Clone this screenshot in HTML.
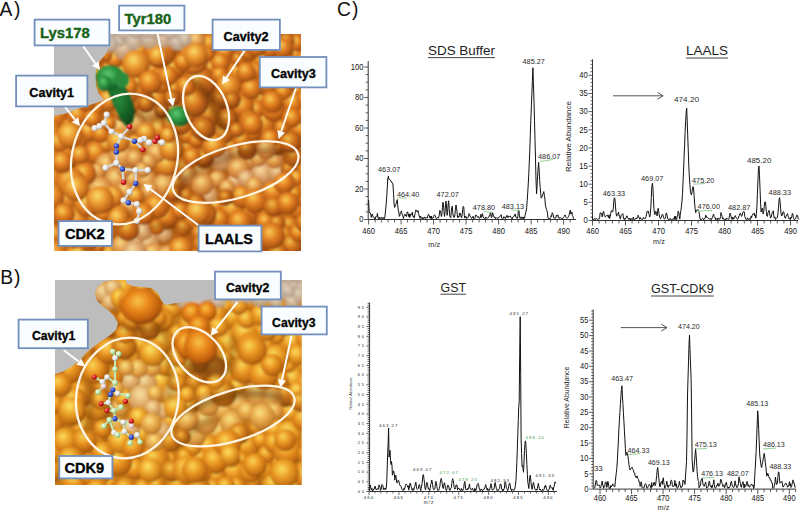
<!DOCTYPE html><html><head><meta charset="utf-8"><style>html,body{margin:0;padding:0;background:#fff;}svg{display:block;font-family:"Liberation Sans",sans-serif;}</style></head><body>
<svg width="800" height="518" viewBox="0 0 800 518">
<defs><radialGradient id="ga0" cx="0.42" cy="0.38" r="0.66" fx="0.40" fy="0.34"><stop offset="0" stop-color="#dcad4d"/><stop offset="0.14" stop-color="#b86820"/><stop offset="0.45" stop-color="#904c12"/><stop offset="0.8" stop-color="#6a340a"/><stop offset="1" stop-color="#4e2606" stop-opacity="0.95"/></radialGradient>
<radialGradient id="ga1" cx="0.42" cy="0.38" r="0.66" fx="0.40" fy="0.34"><stop offset="0" stop-color="#e6b850"/><stop offset="0.14" stop-color="#cc7f27"/><stop offset="0.45" stop-color="#aa5a16"/><stop offset="0.8" stop-color="#7f3d0e"/><stop offset="1" stop-color="#5a2b08" stop-opacity="0.95"/></radialGradient>
<radialGradient id="ga2" cx="0.42" cy="0.38" r="0.66" fx="0.40" fy="0.34"><stop offset="0" stop-color="#f0c454"/><stop offset="0.14" stop-color="#e0962e"/><stop offset="0.45" stop-color="#c4681a"/><stop offset="0.8" stop-color="#944612"/><stop offset="1" stop-color="#66300a" stop-opacity="0.95"/></radialGradient>
<radialGradient id="ga3" cx="0.42" cy="0.38" r="0.66" fx="0.40" fy="0.34"><stop offset="0" stop-color="#f4cc59"/><stop offset="0.14" stop-color="#e9a538"/><stop offset="0.45" stop-color="#d3741e"/><stop offset="0.8" stop-color="#a45013"/><stop offset="1" stop-color="#703309" stop-opacity="0.95"/></radialGradient>
<radialGradient id="ga4" cx="0.42" cy="0.38" r="0.66" fx="0.40" fy="0.34"><stop offset="0" stop-color="#f8d35e"/><stop offset="0.14" stop-color="#f2b443"/><stop offset="0.45" stop-color="#e27f22"/><stop offset="0.8" stop-color="#b45a14"/><stop offset="1" stop-color="#7a3608" stop-opacity="0.95"/></radialGradient>
<radialGradient id="ga5" cx="0.42" cy="0.38" r="0.66" fx="0.40" fy="0.34"><stop offset="0" stop-color="#fad864"/><stop offset="0.14" stop-color="#f4be4e"/><stop offset="0.45" stop-color="#e68a28"/><stop offset="0.8" stop-color="#bb6117"/><stop offset="1" stop-color="#803b0a" stop-opacity="0.95"/></radialGradient>
<radialGradient id="ga6" cx="0.42" cy="0.38" r="0.66" fx="0.40" fy="0.34"><stop offset="0" stop-color="#fadd69"/><stop offset="0.14" stop-color="#f6c858"/><stop offset="0.45" stop-color="#ea962e"/><stop offset="0.8" stop-color="#c2681a"/><stop offset="1" stop-color="#86400c" stop-opacity="0.95"/></radialGradient>
<radialGradient id="ga7" cx="0.42" cy="0.38" r="0.66" fx="0.40" fy="0.34"><stop offset="0" stop-color="#f9de79"/><stop offset="0.14" stop-color="#f3ca78"/><stop offset="0.45" stop-color="#e49f4e"/><stop offset="0.8" stop-color="#c47834"/><stop offset="1" stop-color="#945420" stop-opacity="0.95"/></radialGradient>
<radialGradient id="ga8" cx="0.42" cy="0.38" r="0.66" fx="0.40" fy="0.34"><stop offset="0" stop-color="#f8df89"/><stop offset="0.14" stop-color="#f0cc98"/><stop offset="0.45" stop-color="#dea86e"/><stop offset="0.8" stop-color="#c6884e"/><stop offset="1" stop-color="#a26834" stop-opacity="0.95"/></radialGradient>
<radialGradient id="ga9" cx="0.42" cy="0.38" r="0.66" fx="0.40" fy="0.34"><stop offset="0" stop-color="#f2de92"/><stop offset="0.14" stop-color="#e4cbaa"/><stop offset="0.45" stop-color="#d4b08a"/><stop offset="0.8" stop-color="#bf946d"/><stop offset="1" stop-color="#a17954" stop-opacity="0.95"/></radialGradient>
<radialGradient id="ga10" cx="0.42" cy="0.38" r="0.66" fx="0.40" fy="0.34"><stop offset="0" stop-color="#ecde9b"/><stop offset="0.14" stop-color="#d8cabc"/><stop offset="0.45" stop-color="#cbb8a6"/><stop offset="0.8" stop-color="#b8a18c"/><stop offset="1" stop-color="#a08a74" stop-opacity="0.95"/></radialGradient><radialGradient id="gb0" cx="0.42" cy="0.38" r="0.66" fx="0.40" fy="0.34"><stop offset="0" stop-color="#e0b149"/><stop offset="0.14" stop-color="#c07018"/><stop offset="0.45" stop-color="#9a500e"/><stop offset="0.8" stop-color="#723808"/><stop offset="1" stop-color="#542604" stop-opacity="0.95"/></radialGradient>
<radialGradient id="gb1" cx="0.42" cy="0.38" r="0.66" fx="0.40" fy="0.34"><stop offset="0" stop-color="#eabd4f"/><stop offset="0.14" stop-color="#d48824"/><stop offset="0.45" stop-color="#b16314"/><stop offset="0.8" stop-color="#86450c"/><stop offset="1" stop-color="#602f06" stop-opacity="0.95"/></radialGradient>
<radialGradient id="gb2" cx="0.42" cy="0.38" r="0.66" fx="0.40" fy="0.34"><stop offset="0" stop-color="#f4c955"/><stop offset="0.14" stop-color="#e8a030"/><stop offset="0.45" stop-color="#c8761a"/><stop offset="0.8" stop-color="#9a5210"/><stop offset="1" stop-color="#6c3808" stop-opacity="0.95"/></radialGradient>
<radialGradient id="gb3" cx="0.42" cy="0.38" r="0.66" fx="0.40" fy="0.34"><stop offset="0" stop-color="#f7d25a"/><stop offset="0.14" stop-color="#efb13a"/><stop offset="0.45" stop-color="#d8851e"/><stop offset="0.8" stop-color="#ae5f11"/><stop offset="1" stop-color="#7b4109" stop-opacity="0.95"/></radialGradient>
<radialGradient id="gb4" cx="0.42" cy="0.38" r="0.66" fx="0.40" fy="0.34"><stop offset="0" stop-color="#fada5f"/><stop offset="0.14" stop-color="#f6c244"/><stop offset="0.45" stop-color="#e99422"/><stop offset="0.8" stop-color="#c26c12"/><stop offset="1" stop-color="#8a4a0a" stop-opacity="0.95"/></radialGradient>
<radialGradient id="gb5" cx="0.42" cy="0.38" r="0.66" fx="0.40" fy="0.34"><stop offset="0" stop-color="#fbde63"/><stop offset="0.14" stop-color="#f7ca4c"/><stop offset="0.45" stop-color="#ec9d27"/><stop offset="0.8" stop-color="#c77414"/><stop offset="1" stop-color="#8f4e0b" stop-opacity="0.95"/></radialGradient>
<radialGradient id="gb6" cx="0.42" cy="0.38" r="0.66" fx="0.40" fy="0.34"><stop offset="0" stop-color="#fce267"/><stop offset="0.14" stop-color="#f8d254"/><stop offset="0.45" stop-color="#eea62c"/><stop offset="0.8" stop-color="#cc7c16"/><stop offset="1" stop-color="#94520c" stop-opacity="0.95"/></radialGradient>
<radialGradient id="gb7" cx="0.42" cy="0.38" r="0.66" fx="0.40" fy="0.34"><stop offset="0" stop-color="#fae278"/><stop offset="0.14" stop-color="#f5d377"/><stop offset="0.45" stop-color="#e9ad4e"/><stop offset="0.8" stop-color="#cc8733"/><stop offset="1" stop-color="#9e6120" stop-opacity="0.95"/></radialGradient>
<radialGradient id="gb8" cx="0.42" cy="0.38" r="0.66" fx="0.40" fy="0.34"><stop offset="0" stop-color="#f8e38a"/><stop offset="0.14" stop-color="#f2d49a"/><stop offset="0.45" stop-color="#e4b470"/><stop offset="0.8" stop-color="#cc9250"/><stop offset="1" stop-color="#a87034" stop-opacity="0.95"/></radialGradient>
<radialGradient id="gb9" cx="0.42" cy="0.38" r="0.66" fx="0.40" fy="0.34"><stop offset="0" stop-color="#f2e194"/><stop offset="0.14" stop-color="#e6d0ad"/><stop offset="0.45" stop-color="#d8b78c"/><stop offset="0.8" stop-color="#c39b6f"/><stop offset="1" stop-color="#a57e55" stop-opacity="0.95"/></radialGradient>
<radialGradient id="gb10" cx="0.42" cy="0.38" r="0.66" fx="0.40" fy="0.34"><stop offset="0" stop-color="#ece09d"/><stop offset="0.14" stop-color="#dacdc0"/><stop offset="0.45" stop-color="#ccbaa8"/><stop offset="0.8" stop-color="#baa48e"/><stop offset="1" stop-color="#a28c76" stop-opacity="0.95"/></radialGradient>
<radialGradient id="prom" cx="0.45" cy="0.4" r="0.62" fx="0.42" fy="0.36">
  <stop offset="0" stop-color="#f8c448"/>
  <stop offset="0.45" stop-color="#e8841a"/>
  <stop offset="0.85" stop-color="#b85a0c"/>
  <stop offset="1" stop-color="#6a3006"/>
</radialGradient>
<radialGradient id="sphG" cx="0.42" cy="0.38" r="0.66">
  <stop offset="0" stop-color="#62c872"/>
  <stop offset="0.45" stop-color="#2f9a44"/>
  <stop offset="0.85" stop-color="#1d6e30"/>
  <stop offset="1" stop-color="#134f20"/>
</radialGradient>
<radialGradient id="sphGd" cx="0.42" cy="0.38" r="0.66">
  <stop offset="0" stop-color="#2a8a3c"/>
  <stop offset="0.5" stop-color="#1a6a2a"/>
  <stop offset="1" stop-color="#0f461a"/>
</radialGradient>
<radialGradient id="atomW" cx="0.35" cy="0.35" r="0.7">
  <stop offset="0" stop-color="#ffffff"/><stop offset="0.6" stop-color="#e4e4e4"/><stop offset="1" stop-color="#a0a0a0"/>
</radialGradient>
<radialGradient id="atomB" cx="0.35" cy="0.35" r="0.7">
  <stop offset="0" stop-color="#8aa0ff"/><stop offset="0.6" stop-color="#3048c8"/><stop offset="1" stop-color="#1a2470"/>
</radialGradient>
<radialGradient id="atomR" cx="0.35" cy="0.35" r="0.7">
  <stop offset="0" stop-color="#ff8080"/><stop offset="0.6" stop-color="#d01818"/><stop offset="1" stop-color="#801010"/>
</radialGradient>
<radialGradient id="atomP" cx="0.35" cy="0.35" r="0.7">
  <stop offset="0" stop-color="#fff4f4"/><stop offset="0.6" stop-color="#e8d0d0"/><stop offset="1" stop-color="#a08888"/>
</radialGradient>
<radialGradient id="atomGr" cx="0.35" cy="0.35" r="0.7">
  <stop offset="0" stop-color="#f4fff0"/><stop offset="0.6" stop-color="#bce4a8"/><stop offset="1" stop-color="#78a868"/>
</radialGradient>
<clipPath id="clipA"><rect x="54" y="34" width="247" height="217"/></clipPath>
<clipPath id="clipB"><rect x="55" y="280" width="246.5" height="205"/></clipPath>
<filter id="soft" x="-5%" y="-5%" width="110%" height="110%"><feGaussianBlur stdDeviation="0.9"/></filter>
<filter id="blur3" x="-30%" y="-30%" width="160%" height="160%"><feGaussianBlur stdDeviation="3"/></filter>
<filter id="blur5" x="-30%" y="-30%" width="160%" height="160%"><feGaussianBlur stdDeviation="5"/></filter>
</defs>
<rect width="800" height="518" fill="#fff"/>
<g clip-path="url(#clipA)">
<rect x="54" y="34" width="247" height="217" fill="#b8641a"/>
<g filter="url(#soft)">
<rect x="100" y="30" width="100" height="20" fill="#cbb8a4"/>
<circle cx="215.7" cy="205.6" r="7.9" fill="url(#ga5)"/>
<circle cx="47.3" cy="46.0" r="9.2" fill="url(#ga4)"/>
<circle cx="112.0" cy="84.6" r="8.1" fill="url(#ga4)"/>
<circle cx="96.0" cy="152.6" r="11.4" fill="url(#ga4)"/>
<circle cx="186.0" cy="195.4" r="7.6" fill="url(#ga3)"/>
<circle cx="290.0" cy="224.9" r="9.9" fill="url(#ga3)"/>
<circle cx="54.4" cy="115.4" r="14.7" fill="url(#ga4)"/>
<circle cx="79.1" cy="255.0" r="14.0" fill="url(#ga5)"/>
<circle cx="54.8" cy="234.5" r="9.8" fill="url(#ga4)"/>
<circle cx="209.4" cy="234.1" r="8.7" fill="url(#ga4)"/>
<circle cx="132.1" cy="179.0" r="9.7" fill="url(#ga7)"/>
<circle cx="110.6" cy="254.9" r="12.3" fill="url(#ga4)"/>
<circle cx="210.1" cy="43.6" r="10.3" fill="url(#ga4)"/>
<circle cx="148.8" cy="143.8" r="8.6" fill="url(#ga7)"/>
<circle cx="49.1" cy="78.3" r="9.8" fill="url(#ga3)"/>
<circle cx="107.0" cy="164.3" r="11.6" fill="url(#ga7)"/>
<circle cx="110.0" cy="69.7" r="9.9" fill="url(#ga4)"/>
<circle cx="262.7" cy="173.6" r="11.9" fill="url(#ga8)"/>
<circle cx="122.4" cy="73.7" r="11.7" fill="url(#ga5)"/>
<circle cx="294.8" cy="54.4" r="8.1" fill="url(#ga4)"/>
<circle cx="98.9" cy="73.0" r="8.4" fill="url(#ga4)"/>
<circle cx="156.1" cy="97.8" r="12.4" fill="url(#ga4)"/>
<circle cx="263.6" cy="123.4" r="11.4" fill="url(#ga5)"/>
<circle cx="134.8" cy="143.8" r="9.4" fill="url(#ga6)"/>
<circle cx="263.2" cy="210.6" r="8.4" fill="url(#ga4)"/>
<circle cx="285.4" cy="234.4" r="8.2" fill="url(#ga3)"/>
<circle cx="47.9" cy="211.6" r="9.3" fill="url(#ga5)"/>
<circle cx="109.5" cy="222.6" r="7.6" fill="url(#ga4)"/>
<circle cx="236.1" cy="238.4" r="8.9" fill="url(#ga4)"/>
<circle cx="222.6" cy="41.4" r="10.1" fill="url(#ga3)"/>
<circle cx="277.8" cy="172.2" r="10.4" fill="url(#ga8)"/>
<circle cx="263.7" cy="59.8" r="12.7" fill="url(#ga4)"/>
<circle cx="309.1" cy="141.2" r="7.8" fill="url(#ga4)"/>
<circle cx="231.3" cy="225.1" r="11.2" fill="url(#ga4)"/>
<circle cx="63.8" cy="159.6" r="13.1" fill="url(#ga5)"/>
<circle cx="177.1" cy="183.0" r="9.1" fill="url(#ga3)"/>
<circle cx="181.6" cy="167.4" r="10.5" fill="url(#ga4)"/>
<circle cx="238.7" cy="72.0" r="11.4" fill="url(#ga4)"/>
<circle cx="265.5" cy="221.4" r="9.2" fill="url(#ga4)"/>
<circle cx="243.8" cy="217.8" r="12.8" fill="url(#ga4)"/>
<circle cx="251.3" cy="147.6" r="12.1" fill="url(#ga2)"/>
<circle cx="163.9" cy="233.9" r="8.3" fill="url(#ga8)"/>
<circle cx="147.0" cy="180.0" r="9.6" fill="url(#ga7)"/>
<circle cx="208.7" cy="195.0" r="9.0" fill="url(#ga8)"/>
<circle cx="116.2" cy="179.1" r="11.3" fill="url(#ga7)"/>
<circle cx="210.9" cy="67.9" r="8.7" fill="url(#ga4)"/>
<circle cx="308.3" cy="187.9" r="12.8" fill="url(#ga3)"/>
<circle cx="309.4" cy="45.2" r="9.5" fill="url(#ga4)"/>
<circle cx="165.8" cy="217.6" r="12.1" fill="url(#ga4)"/>
<circle cx="129.5" cy="206.5" r="9.3" fill="url(#ga7)"/>
<circle cx="186.8" cy="147.0" r="8.2" fill="url(#ga4)"/>
<circle cx="247.4" cy="238.7" r="7.8" fill="url(#ga4)"/>
<circle cx="164.1" cy="185.0" r="11.2" fill="url(#ga7)"/>
<circle cx="49.2" cy="178.0" r="14.1" fill="url(#ga5)"/>
<circle cx="167.1" cy="164.1" r="11.9" fill="url(#ga6)"/>
<circle cx="277.2" cy="222.8" r="8.2" fill="url(#ga3)"/>
<circle cx="88.6" cy="217.9" r="9.4" fill="url(#ga5)"/>
<circle cx="269.5" cy="48.2" r="9.5" fill="url(#ga4)"/>
<circle cx="92.3" cy="85.7" r="8.9" fill="url(#ga4)"/>
<circle cx="235.0" cy="181.7" r="8.1" fill="url(#ga8)"/>
<circle cx="95.7" cy="257.5" r="10.5" fill="url(#ga3)"/>
<circle cx="86.5" cy="47.5" r="10.1" fill="url(#ga4)"/>
<circle cx="300.6" cy="128.6" r="10.1" fill="url(#ga4)"/>
<circle cx="296.4" cy="90.2" r="9.4" fill="url(#ga4)"/>
<circle cx="141.5" cy="103.2" r="14.0" fill="url(#ga2)"/>
<circle cx="48.1" cy="133.5" r="13.5" fill="url(#ga5)"/>
<circle cx="232.3" cy="208.8" r="12.0" fill="url(#ga5)"/>
<circle cx="122.5" cy="246.0" r="11.1" fill="url(#ga7)"/>
<circle cx="293.4" cy="102.8" r="11.2" fill="url(#ga4)"/>
<circle cx="219.3" cy="218.8" r="10.1" fill="url(#ga4)"/>
<circle cx="148.3" cy="242.5" r="10.5" fill="url(#ga8)"/>
<circle cx="274.7" cy="159.5" r="9.3" fill="url(#ga7)"/>
<circle cx="252.7" cy="131.5" r="8.8" fill="url(#ga4)"/>
<circle cx="297.0" cy="208.6" r="10.1" fill="url(#ga4)"/>
<circle cx="103.2" cy="213.6" r="8.0" fill="url(#ga4)"/>
<circle cx="308.3" cy="171.3" r="13.0" fill="url(#ga3)"/>
<circle cx="196.3" cy="202.8" r="9.8" fill="url(#ga2)"/>
<circle cx="124.5" cy="91.3" r="15.3" fill="url(#ga5)"/>
<circle cx="180.3" cy="210.5" r="8.7" fill="url(#ga4)"/>
<circle cx="141.0" cy="84.9" r="13.2" fill="url(#ga5)"/>
<circle cx="173.0" cy="68.1" r="11.7" fill="url(#ga4)"/>
<circle cx="97.5" cy="171.5" r="8.6" fill="url(#ga7)"/>
<circle cx="156.7" cy="152.8" r="10.2" fill="url(#ga7)"/>
<circle cx="61.4" cy="212.7" r="11.8" fill="url(#ga5)"/>
<circle cx="229.9" cy="145.5" r="8.3" fill="url(#ga4)"/>
<circle cx="239.1" cy="59.0" r="8.3" fill="url(#ga3)"/>
<circle cx="89.0" cy="130.9" r="10.0" fill="url(#ga5)"/>
<circle cx="71.0" cy="127.6" r="10.1" fill="url(#ga4)"/>
<circle cx="248.2" cy="161.3" r="8.4" fill="url(#ga7)"/>
<circle cx="193.7" cy="220.2" r="8.2" fill="url(#ga5)"/>
<circle cx="305.7" cy="241.0" r="7.8" fill="url(#ga4)"/>
<circle cx="153.3" cy="254.3" r="11.3" fill="url(#ga7)"/>
<circle cx="173.6" cy="89.0" r="11.2" fill="url(#ga4)"/>
<circle cx="121.1" cy="126.6" r="11.7" fill="url(#ga7)"/>
<circle cx="135.4" cy="240.2" r="7.9" fill="url(#ga8)"/>
<circle cx="241.6" cy="196.2" r="11.7" fill="url(#ga4)"/>
<circle cx="296.8" cy="42.7" r="8.5" fill="url(#ga4)"/>
<circle cx="120.5" cy="214.1" r="9.4" fill="url(#ga4)"/>
<circle cx="239.5" cy="91.8" r="7.7" fill="url(#ga4)"/>
<circle cx="217.3" cy="178.9" r="8.5" fill="url(#ga7)"/>
<circle cx="168.7" cy="257.5" r="12.7" fill="url(#ga7)"/>
<circle cx="291.9" cy="244.7" r="11.3" fill="url(#ga3)"/>
<circle cx="204.5" cy="214.2" r="12.2" fill="url(#ga3)"/>
<circle cx="230.6" cy="106.3" r="7.8" fill="url(#ga2)"/>
<circle cx="124.5" cy="169.8" r="7.5" fill="url(#ga7)"/>
<circle cx="52.6" cy="66.5" r="11.4" fill="url(#ga4)"/>
<circle cx="248.6" cy="47.9" r="12.7" fill="url(#ga5)"/>
<circle cx="106.6" cy="143.7" r="7.9" fill="url(#ga6)"/>
<circle cx="212.7" cy="250.6" r="8.9" fill="url(#ga4)"/>
<circle cx="114.6" cy="59.2" r="9.2" fill="url(#ga4)"/>
<circle cx="143.3" cy="231.5" r="9.1" fill="url(#ga8)"/>
<circle cx="53.9" cy="254.3" r="13.5" fill="url(#ga5)"/>
<circle cx="100.5" cy="189.5" r="12.6" fill="url(#ga7)"/>
<circle cx="48.9" cy="150.4" r="12.6" fill="url(#ga5)"/>
<circle cx="227.3" cy="187.4" r="8.0" fill="url(#ga7)"/>
<circle cx="101.0" cy="133.8" r="9.2" fill="url(#ga4)"/>
<circle cx="187.3" cy="115.3" r="7.6" fill="url(#ga4)"/>
<circle cx="239.2" cy="154.2" r="10.1" fill="url(#ga7)"/>
<circle cx="65.9" cy="198.9" r="12.1" fill="url(#ga5)"/>
<circle cx="148.5" cy="117.0" r="12.6" fill="url(#ga7)"/>
<circle cx="122.1" cy="155.7" r="12.9" fill="url(#ga7)"/>
<circle cx="148.5" cy="161.7" r="8.3" fill="url(#ga7)"/>
<circle cx="158.8" cy="127.5" r="9.5" fill="url(#ga6)"/>
<circle cx="51.0" cy="196.6" r="13.5" fill="url(#ga5)"/>
<circle cx="288.6" cy="169.3" r="8.2" fill="url(#ga2)"/>
<circle cx="293.3" cy="156.3" r="10.2" fill="url(#ga3)"/>
<circle cx="201.5" cy="171.6" r="7.9" fill="url(#ga7)"/>
<circle cx="83.1" cy="74.6" r="11.5" fill="url(#ga3)"/>
<circle cx="53.4" cy="95.3" r="12.4" fill="url(#ga4)"/>
<circle cx="294.4" cy="193.2" r="7.8" fill="url(#ga4)"/>
<circle cx="104.2" cy="54.5" r="8.3" fill="url(#ga4)"/>
<circle cx="171.4" cy="148.7" r="12.3" fill="url(#ga6)"/>
<circle cx="199.4" cy="232.8" r="8.3" fill="url(#ga4)"/>
<circle cx="186.7" cy="135.3" r="8.6" fill="url(#ga4)"/>
<circle cx="284.7" cy="50.9" r="9.0" fill="url(#ga3)"/>
<circle cx="124.9" cy="190.9" r="9.3" fill="url(#ga7)"/>
<circle cx="262.4" cy="99.8" r="10.3" fill="url(#ga3)"/>
<circle cx="128.2" cy="229.7" r="11.3" fill="url(#ga3)"/>
<circle cx="157.0" cy="227.3" r="7.8" fill="url(#ga4)"/>
<circle cx="224.6" cy="52.4" r="8.8" fill="url(#ga4)"/>
<circle cx="223.1" cy="132.9" r="11.6" fill="url(#ga3)"/>
<circle cx="134.6" cy="158.2" r="8.6" fill="url(#ga7)"/>
<circle cx="258.0" cy="158.2" r="8.5" fill="url(#ga7)"/>
<circle cx="220.8" cy="159.3" r="12.0" fill="url(#ga8)"/>
<circle cx="225.6" cy="197.4" r="8.4" fill="url(#ga2)"/>
<circle cx="94.9" cy="59.2" r="9.3" fill="url(#ga4)"/>
<circle cx="238.7" cy="168.0" r="11.2" fill="url(#ga7)"/>
<circle cx="170.4" cy="123.0" r="9.1" fill="url(#ga4)"/>
<circle cx="246.2" cy="178.5" r="8.8" fill="url(#ga8)"/>
<circle cx="306.9" cy="98.9" r="10.2" fill="url(#ga4)"/>
<circle cx="118.4" cy="141.0" r="11.8" fill="url(#ga6)"/>
<circle cx="277.4" cy="147.1" r="8.4" fill="url(#ga2)"/>
<circle cx="138.5" cy="52.5" r="12.7" fill="url(#ga5)"/>
<circle cx="199.4" cy="82.5" r="16.8" fill="url(#ga3)"/>
<circle cx="95.4" cy="108.3" r="8.2" fill="url(#ga4)"/>
<circle cx="69.4" cy="98.9" r="9.7" fill="url(#ga3)"/>
<circle cx="142.3" cy="169.9" r="7.9" fill="url(#ga7)"/>
<circle cx="76.8" cy="55.7" r="9.6" fill="url(#ga4)"/>
<circle cx="197.6" cy="256.8" r="8.5" fill="url(#ga4)"/>
<circle cx="309.0" cy="156.6" r="8.3" fill="url(#ga4)"/>
<circle cx="79.8" cy="89.9" r="13.5" fill="url(#ga4)"/>
<circle cx="188.1" cy="176.6" r="8.8" fill="url(#ga7)"/>
<circle cx="123.1" cy="112.2" r="9.9" fill="url(#ga4)"/>
<circle cx="221.5" cy="232.4" r="9.7" fill="url(#ga3)"/>
<circle cx="196.5" cy="139.9" r="7.8" fill="url(#ga4)"/>
<circle cx="256.5" cy="109.4" r="8.6" fill="url(#ga4)"/>
<circle cx="149.4" cy="190.8" r="8.9" fill="url(#ga7)"/>
<circle cx="254.4" cy="185.6" r="8.9" fill="url(#ga7)"/>
<circle cx="284.8" cy="63.7" r="10.6" fill="url(#ga4)"/>
<circle cx="77.8" cy="114.7" r="11.2" fill="url(#ga4)"/>
<circle cx="202.5" cy="243.8" r="9.3" fill="url(#ga4)"/>
<circle cx="304.1" cy="60.3" r="9.0" fill="url(#ga4)"/>
<circle cx="306.0" cy="115.4" r="8.5" fill="url(#ga4)"/>
<circle cx="134.7" cy="253.7" r="12.8" fill="url(#ga8)"/>
<circle cx="124.4" cy="48.8" r="11.3" fill="url(#ga9)"/>
<circle cx="203.7" cy="157.8" r="10.7" fill="url(#ga2)"/>
<circle cx="97.1" cy="246.0" r="7.7" fill="url(#ga4)"/>
<circle cx="84.7" cy="173.8" r="11.7" fill="url(#ga4)"/>
<circle cx="288.6" cy="117.6" r="10.2" fill="url(#ga5)"/>
<circle cx="271.3" cy="240.4" r="11.7" fill="url(#ga3)"/>
<circle cx="185.6" cy="40.8" r="8.5" fill="url(#ga8)"/>
<circle cx="286.8" cy="40.9" r="8.0" fill="url(#ga3)"/>
<circle cx="304.7" cy="257.8" r="8.1" fill="url(#ga3)"/>
<circle cx="239.8" cy="249.9" r="8.9" fill="url(#ga5)"/>
<circle cx="86.5" cy="102.0" r="10.0" fill="url(#ga4)"/>
<circle cx="183.2" cy="228.1" r="7.8" fill="url(#ga4)"/>
<circle cx="64.6" cy="82.1" r="9.5" fill="url(#ga4)"/>
<circle cx="289.9" cy="141.8" r="11.1" fill="url(#ga3)"/>
<circle cx="273.7" cy="109.9" r="11.7" fill="url(#ga4)"/>
<circle cx="202.5" cy="184.4" r="11.0" fill="url(#ga7)"/>
<circle cx="113.4" cy="196.1" r="10.4" fill="url(#ga6)"/>
<circle cx="242.6" cy="106.4" r="11.6" fill="url(#ga4)"/>
<circle cx="255.2" cy="200.9" r="12.4" fill="url(#ga4)"/>
<circle cx="135.9" cy="195.7" r="7.9" fill="url(#ga6)"/>
<circle cx="168.3" cy="135.1" r="7.9" fill="url(#ga6)"/>
<circle cx="108.7" cy="123.3" r="7.6" fill="url(#ga4)"/>
<circle cx="106.8" cy="233.3" r="8.4" fill="url(#ga4)"/>
<circle cx="220.3" cy="62.4" r="9.6" fill="url(#ga4)"/>
<circle cx="253.1" cy="252.0" r="11.2" fill="url(#ga3)"/>
<circle cx="92.6" cy="118.7" r="9.0" fill="url(#ga4)"/>
<circle cx="288.0" cy="80.6" r="11.3" fill="url(#ga3)"/>
<circle cx="172.9" cy="110.8" r="8.6" fill="url(#ga5)"/>
<circle cx="102.6" cy="88.3" r="9.1" fill="url(#ga4)"/>
<circle cx="298.7" cy="232.8" r="9.4" fill="url(#ga4)"/>
<circle cx="303.5" cy="74.4" r="12.5" fill="url(#ga4)"/>
<circle cx="227.4" cy="253.4" r="9.5" fill="url(#ga4)"/>
<circle cx="136.7" cy="122.8" r="9.5" fill="url(#ga7)"/>
<circle cx="193.3" cy="59.9" r="15.1" fill="url(#ga5)"/>
<circle cx="152.4" cy="69.2" r="11.4" fill="url(#ga4)"/>
<circle cx="309.5" cy="86.3" r="9.6" fill="url(#ga4)"/>
<circle cx="75.6" cy="140.1" r="10.7" fill="url(#ga5)"/>
<circle cx="261.7" cy="233.0" r="7.5" fill="url(#ga4)"/>
<circle cx="71.8" cy="66.7" r="9.9" fill="url(#ga4)"/>
<circle cx="159.5" cy="51.3" r="16.8" fill="url(#ga4)"/>
<circle cx="156.6" cy="206.1" r="12.9" fill="url(#ga4)"/>
<circle cx="196.4" cy="40.1" r="9.2" fill="url(#ga7)"/>
<circle cx="305.1" cy="222.7" r="10.1" fill="url(#ga3)"/>
<circle cx="57.5" cy="52.4" r="9.0" fill="url(#ga3)"/>
<circle cx="219.7" cy="74.9" r="8.2" fill="url(#ga4)"/>
<circle cx="234.5" cy="42.4" r="8.1" fill="url(#ga5)"/>
<circle cx="93.9" cy="232.1" r="12.8" fill="url(#ga4)"/>
<circle cx="270.2" cy="138.6" r="9.4" fill="url(#ga4)"/>
<circle cx="71.2" cy="182.4" r="14.3" fill="url(#ga5)"/>
<circle cx="191.8" cy="156.7" r="9.3" fill="url(#ga4)"/>
<circle cx="101.3" cy="202.6" r="9.4" fill="url(#ga4)"/>
<circle cx="241.8" cy="140.1" r="8.4" fill="url(#ga4)"/>
<circle cx="222.0" cy="98.6" r="11.4" fill="url(#ga1)"/>
<circle cx="146.1" cy="132.2" r="9.7" fill="url(#ga6)"/>
<circle cx="80.1" cy="154.7" r="9.2" fill="url(#ga5)"/>
<circle cx="159.8" cy="81.0" r="12.6" fill="url(#ga5)"/>
<circle cx="209.1" cy="114.3" r="12.7" fill="url(#ga3)"/>
<circle cx="255.1" cy="70.6" r="8.5" fill="url(#ga4)"/>
<circle cx="214.5" cy="146.3" r="11.9" fill="url(#ga5)"/>
<circle cx="249.3" cy="119.9" r="10.1" fill="url(#ga3)"/>
<circle cx="268.6" cy="84.2" r="12.8" fill="url(#ga3)"/>
<circle cx="194.5" cy="102.6" r="14.4" fill="url(#ga3)"/>
<circle cx="266.3" cy="149.7" r="9.8" fill="url(#ga7)"/>
<circle cx="227.4" cy="119.4" r="11.1" fill="url(#ga2)"/>
<circle cx="278.0" cy="253.6" r="10.5" fill="url(#ga3)"/>
<circle cx="228.8" cy="86.3" r="12.8" fill="url(#ga5)"/>
<circle cx="75.3" cy="219.5" r="13.1" fill="url(#ga5)"/>
<circle cx="206.8" cy="54.1" r="7.7" fill="url(#ga4)"/>
<circle cx="203.3" cy="128.5" r="12.6" fill="url(#ga2)"/>
<circle cx="181.4" cy="125.7" r="9.3" fill="url(#ga3)"/>
<circle cx="180.6" cy="248.8" r="11.6" fill="url(#ga5)"/>
<circle cx="274.4" cy="70.2" r="7.6" fill="url(#ga4)"/>
<circle cx="296.5" cy="177.7" r="7.7" fill="url(#ga5)"/>
<circle cx="173.1" cy="193.1" r="8.2" fill="url(#ga3)"/>
<circle cx="273.3" cy="192.0" r="11.7" fill="url(#ga4)"/>
<circle cx="162.1" cy="110.8" r="7.9" fill="url(#ga1)"/>
<circle cx="282.1" cy="127.4" r="7.8" fill="url(#ga4)"/>
<circle cx="308.1" cy="201.3" r="9.9" fill="url(#ga3)"/>
<circle cx="283.3" cy="91.6" r="8.5" fill="url(#ga4)"/>
<circle cx="284.5" cy="182.9" r="10.7" fill="url(#ga4)"/>
<circle cx="251.3" cy="88.8" r="10.4" fill="url(#ga4)"/>
<circle cx="236.7" cy="130.1" r="7.6" fill="url(#ga3)"/>
<circle cx="74.3" cy="238.6" r="9.8" fill="url(#ga4)"/>
<circle cx="109.0" cy="99.6" r="11.1" fill="url(#ga5)"/>
<circle cx="273.7" cy="206.8" r="10.3" fill="url(#ga3)"/>
<circle cx="59.1" cy="142.0" r="10.0" fill="url(#ga5)"/>
<circle cx="87.5" cy="203.9" r="13.1" fill="url(#ga5)"/>
<circle cx="143.2" cy="213.9" r="10.9" fill="url(#ga4)"/>
<circle cx="119.6" cy="40.3" r="6.8" fill="url(#ga10)" opacity="0.85"/>
<circle cx="163.6" cy="40.2" r="7.9" fill="url(#ga10)" opacity="0.85"/>
<circle cx="149.3" cy="40.4" r="8.6" fill="url(#ga10)" opacity="0.85"/>
<circle cx="176.6" cy="42.7" r="7.9" fill="url(#ga10)" opacity="0.85"/>
<circle cx="125.7" cy="30.6" r="10.1" fill="url(#ga10)" opacity="0.85"/>
<circle cx="134.0" cy="41.8" r="8.5" fill="url(#ga10)" opacity="0.85"/>
<circle cx="178.8" cy="31.3" r="7.0" fill="url(#ga10)" opacity="0.85"/>
<circle cx="145.7" cy="32.1" r="6.5" fill="url(#ga10)" opacity="0.85"/>
<circle cx="162.0" cy="29.8" r="6.3" fill="url(#ga10)" opacity="0.85"/>
<circle cx="109.8" cy="31.5" r="7.1" fill="url(#ga10)" opacity="0.85"/>
<circle cx="109.1" cy="44.0" r="8.8" fill="url(#ga10)" opacity="0.85"/>
<circle cx="153.7" cy="31.4" r="6.8" fill="url(#ga10)" opacity="0.85"/>
<circle cx="184.8" cy="39.0" r="7.2" fill="url(#ga10)" opacity="0.85"/>
<circle cx="136.4" cy="30.6" r="7.9" fill="url(#ga10)" opacity="0.85"/>
<circle cx="170.4" cy="33.1" r="6.1" fill="url(#ga10)" opacity="0.85"/>
<circle cx="136.0" cy="64.0" r="14.0" fill="url(#ga6)"/>
<circle cx="158.0" cy="56.0" r="10.0" fill="url(#ga6)"/>
<circle cx="150.0" cy="82.0" r="12.0" fill="url(#ga4)"/>
<circle cx="129.0" cy="86.0" r="9.0" fill="url(#ga4)"/>
<circle cx="168.0" cy="76.0" r="10.0" fill="url(#ga4)"/>
<circle cx="183.0" cy="62.0" r="9.0" fill="url(#ga4)"/>
<circle cx="196.0" cy="55.0" r="12.0" fill="url(#ga6)"/>
<circle cx="186.0" cy="86.0" r="10.0" fill="url(#ga4)"/>
<circle cx="172.0" cy="98.0" r="9.0" fill="url(#ga2)"/>
<circle cx="146.0" cy="104.0" r="9.0" fill="url(#ga2)"/>
<circle cx="70.0" cy="135.0" r="13.0" fill="url(#ga6)"/>
<circle cx="62.0" cy="162.0" r="11.0" fill="url(#ga4)"/>
<circle cx="76.0" cy="188.0" r="13.0" fill="url(#ga6)"/>
<circle cx="64.0" cy="214.0" r="11.0" fill="url(#ga4)"/>
<circle cx="88.0" cy="240.0" r="11.0" fill="url(#ga4)"/>
<circle cx="100.0" cy="200.0" r="14.0" fill="url(#ga6)"/>
<circle cx="118.0" cy="218.0" r="10.0" fill="url(#ga6)"/>
<circle cx="198.0" cy="212.0" r="12.0" fill="url(#ga6)"/>
<circle cx="240.0" cy="222.0" r="12.0" fill="url(#ga4)"/>
<circle cx="272.0" cy="236.0" r="13.0" fill="url(#ga4)"/>
<circle cx="288.0" cy="203.0" r="11.0" fill="url(#ga4)"/>
<circle cx="256.0" cy="46.0" r="11.0" fill="url(#ga4)"/>
<circle cx="283.0" cy="48.0" r="10.0" fill="url(#ga4)"/>
<circle cx="246.0" cy="72.0" r="10.0" fill="url(#ga4)"/>
<circle cx="272.0" cy="102.0" r="11.0" fill="url(#ga4)"/>
<circle cx="292.0" cy="118.0" r="10.0" fill="url(#ga4)"/>
<circle cx="252.0" cy="124.0" r="11.0" fill="url(#ga4)"/>
<circle cx="232.0" cy="100.0" r="9.0" fill="url(#ga2)"/>
<circle cx="247.0" cy="150.0" r="10.0" fill="url(#ga2)"/>
</g>
<g filter="url(#blur3)" fill="none" stroke-linecap="round">
<path d="M196,82 Q212,98 222,128" stroke="#5a2806" stroke-width="6" opacity="0.65"/>
<path d="M184,182 Q204,160 250,152 Q278,148 290,156" stroke="#5a2806" stroke-width="5" opacity="0.6"/>
<path d="M132,112 Q150,122 172,118" stroke="#5a2806" stroke-width="6" opacity="0.5"/>
<path d="M150,228 Q170,222 190,232" stroke="#5a2806" stroke-width="5" opacity="0.45"/>
<path d="M176,130 Q184,160 178,200" stroke="#5a2806" stroke-width="5" opacity="0.45"/>
</g>
<path d="M54,34 L111,34 L110,46 L105,55 L99,62 L96,70 L96,86 L99,94 L104,100 L96,103 L86,106 L75,110 L64,114 L54,116 Z" fill="#bdbdbd"/>
<g filter="url(#soft)">
<path d="M106,86 L123,84 L131,97 L135,111 L133,122 L127,127 L120,119 L113,104 Z" fill="url(#sphGd)"/>
<ellipse cx="110" cy="77" rx="14" ry="11.5" fill="url(#sphG)"/>
<ellipse cx="104" cy="83" rx="7" ry="8" fill="url(#sphG)"/>
<ellipse cx="122" cy="80" rx="7" ry="8" fill="#2c8c3c"/>
<path d="M167,114 Q170,107 177,106 Q185,107 187,112 L189,122 Q184,127 177,126 Q170,124 168,120 Z" fill="url(#sphG)"/>
</g>
<g stroke="#d8d8d8" stroke-width="2.3" stroke-linecap="round">
<line x1="94.7" y1="128" x2="99.5" y2="126"/>
<line x1="99.5" y1="126" x2="104" y2="123"/>
<line x1="104" y1="123" x2="106.7" y2="114.7"/>
<line x1="104" y1="123" x2="111.5" y2="131.5"/>
<line x1="111.5" y1="131.5" x2="121.2" y2="136.4"/>
<line x1="121.2" y1="136.4" x2="129.6" y2="126.7"/>
<line x1="121.2" y1="136.4" x2="134.5" y2="141.2"/>
<line x1="134.5" y1="141.2" x2="144" y2="138.8"/>
<line x1="144" y1="138.8" x2="149" y2="142.4"/>
<line x1="149" y1="142.4" x2="155" y2="141.2"/>
<line x1="155" y1="141.2" x2="157.4" y2="137.5"/>
<line x1="155" y1="141.2" x2="162" y2="142.4"/>
<line x1="134.5" y1="141.2" x2="142.9" y2="149.6"/>
<line x1="121.2" y1="136.4" x2="116.4" y2="146"/>
<line x1="116.4" y1="146" x2="116.4" y2="152"/>
<line x1="116.4" y1="152" x2="116.4" y2="162.9"/>
<line x1="116.4" y1="162.9" x2="105.5" y2="167.7"/>
<line x1="116.4" y1="162.9" x2="122.4" y2="169"/>
<line x1="122.4" y1="169" x2="135.7" y2="170.2"/>
<line x1="135.7" y1="170.2" x2="147.7" y2="170.2"/>
<line x1="135.7" y1="170.2" x2="135.7" y2="183.4"/>
<line x1="122.4" y1="169" x2="123.6" y2="182.2"/>
<line x1="135.7" y1="183.4" x2="129.6" y2="191.9"/>
<line x1="129.6" y1="191.9" x2="123.6" y2="200.3"/>
<line x1="123.6" y1="200.3" x2="128.4" y2="202.7"/>
<line x1="128.4" y1="202.7" x2="136.9" y2="204"/>
<line x1="136.9" y1="204" x2="139.3" y2="211.2"/>
<line x1="139.3" y1="211.2" x2="136.9" y2="220.8"/>
<line x1="144" y1="138.8" x2="140.5" y2="140"/>
</g>
<circle cx="94.7" cy="128" r="3.1" fill="url(#atomW)"/>
<circle cx="99.5" cy="126" r="3.1" fill="url(#atomW)"/>
<circle cx="106.7" cy="114.7" r="3.1" fill="url(#atomW)"/>
<circle cx="104" cy="123" r="3.1" fill="url(#atomW)"/>
<circle cx="111.5" cy="131.5" r="3.1" fill="url(#atomW)"/>
<circle cx="121.2" cy="136.4" r="3.1" fill="url(#atomW)"/>
<circle cx="129.6" cy="126.7" r="2.7" fill="url(#atomR)"/>
<circle cx="134.5" cy="141.2" r="2.7" fill="url(#atomB)"/>
<circle cx="144" cy="138.8" r="3.1" fill="url(#atomW)"/>
<circle cx="149" cy="142.4" r="3.1" fill="url(#atomW)"/>
<circle cx="155" cy="141.2" r="2.7" fill="url(#atomR)"/>
<circle cx="157.4" cy="137.5" r="2.7" fill="url(#atomR)"/>
<circle cx="162" cy="142.4" r="3.1" fill="url(#atomW)"/>
<circle cx="142.9" cy="149.6" r="2.7" fill="url(#atomR)"/>
<circle cx="116.4" cy="146" r="2.7" fill="url(#atomB)"/>
<circle cx="116.4" cy="152" r="2.7" fill="url(#atomB)"/>
<circle cx="116.4" cy="162.9" r="3.1" fill="url(#atomW)"/>
<circle cx="105.5" cy="167.7" r="3.1" fill="url(#atomW)"/>
<circle cx="122.4" cy="169" r="2.7" fill="url(#atomB)"/>
<circle cx="135.7" cy="170.2" r="3.1" fill="url(#atomW)"/>
<circle cx="147.7" cy="170.2" r="3.1" fill="url(#atomW)"/>
<circle cx="123.6" cy="182.2" r="2.7" fill="url(#atomR)"/>
<circle cx="135.7" cy="183.4" r="2.7" fill="url(#atomB)"/>
<circle cx="129.6" cy="191.9" r="3.1" fill="url(#atomW)"/>
<circle cx="123.6" cy="200.3" r="3.1" fill="url(#atomW)"/>
<circle cx="128.4" cy="202.7" r="2.7" fill="url(#atomB)"/>
<circle cx="136.9" cy="204" r="3.1" fill="url(#atomW)"/>
<circle cx="139.3" cy="211.2" r="3.1" fill="url(#atomW)"/>
<circle cx="136.9" cy="220.8" r="3.1" fill="url(#atomW)"/>
<circle cx="140.5" cy="140" r="3.1" fill="url(#atomW)"/>
</g>
<g clip-path="url(#clipB)">
<rect x="55" y="280" width="247" height="205" fill="#c47a1c"/>
<g filter="url(#soft)">
<rect x="180" y="276" width="125" height="32" fill="#dcc6a6"/>
<circle cx="195.6" cy="383.2" r="11.8" fill="url(#gb2)"/>
<circle cx="274.6" cy="429.4" r="10.7" fill="url(#gb5)"/>
<circle cx="187.1" cy="348.8" r="9.8" fill="url(#gb5)"/>
<circle cx="133.4" cy="357.3" r="8.4" fill="url(#gb3)"/>
<circle cx="293.8" cy="378.7" r="12.2" fill="url(#gb5)"/>
<circle cx="218.7" cy="431.3" r="10.7" fill="url(#gb7)"/>
<circle cx="229.4" cy="343.6" r="13.8" fill="url(#gb5)"/>
<circle cx="67.9" cy="305.0" r="12.9" fill="url(#gb3)"/>
<circle cx="162.5" cy="380.9" r="14.7" fill="url(#gb6)"/>
<circle cx="47.0" cy="385.0" r="10.6" fill="url(#gb5)"/>
<circle cx="145.1" cy="383.4" r="12.0" fill="url(#gb8)"/>
<circle cx="124.6" cy="288.1" r="12.7" fill="url(#gb4)"/>
<circle cx="247.1" cy="446.0" r="12.8" fill="url(#gb4)"/>
<circle cx="307.5" cy="438.3" r="13.0" fill="url(#gb4)"/>
<circle cx="208.8" cy="446.3" r="11.9" fill="url(#gb4)"/>
<circle cx="258.3" cy="394.9" r="13.5" fill="url(#gb7)"/>
<circle cx="241.2" cy="460.3" r="8.4" fill="url(#gb4)"/>
<circle cx="200.7" cy="457.4" r="8.8" fill="url(#gb4)"/>
<circle cx="49.9" cy="468.6" r="14.2" fill="url(#gb4)"/>
<circle cx="169.6" cy="459.4" r="8.1" fill="url(#gb4)"/>
<circle cx="103.9" cy="286.9" r="8.6" fill="url(#gb3)"/>
<circle cx="306.0" cy="302.7" r="8.6" fill="url(#gb9)"/>
<circle cx="74.9" cy="480.4" r="13.3" fill="url(#gb5)"/>
<circle cx="127.9" cy="319.4" r="9.3" fill="url(#gb3)"/>
<circle cx="93.7" cy="440.7" r="14.0" fill="url(#gb3)"/>
<circle cx="234.5" cy="471.3" r="13.1" fill="url(#gb4)"/>
<circle cx="171.1" cy="419.8" r="10.1" fill="url(#gb6)"/>
<circle cx="81.8" cy="318.3" r="12.2" fill="url(#gb3)"/>
<circle cx="237.0" cy="486.1" r="8.9" fill="url(#gb4)"/>
<circle cx="293.8" cy="489.9" r="14.6" fill="url(#gb4)"/>
<circle cx="222.6" cy="408.8" r="12.5" fill="url(#gb7)"/>
<circle cx="140.9" cy="434.2" r="9.9" fill="url(#gb6)"/>
<circle cx="233.0" cy="316.9" r="10.8" fill="url(#gb5)"/>
<circle cx="205.7" cy="305.4" r="8.3" fill="url(#gb5)"/>
<circle cx="134.6" cy="468.2" r="11.0" fill="url(#gb4)"/>
<circle cx="215.0" cy="350.0" r="10.7" fill="url(#gb6)"/>
<circle cx="150.9" cy="284.2" r="8.3" fill="url(#gb4)"/>
<circle cx="130.2" cy="428.9" r="10.4" fill="url(#gb8)"/>
<circle cx="95.8" cy="339.1" r="15.1" fill="url(#gb4)"/>
<circle cx="63.0" cy="388.2" r="13.3" fill="url(#gb5)"/>
<circle cx="206.1" cy="339.0" r="9.6" fill="url(#gb6)"/>
<circle cx="130.2" cy="380.3" r="10.5" fill="url(#gb8)"/>
<circle cx="170.0" cy="440.8" r="11.2" fill="url(#gb3)"/>
<circle cx="295.8" cy="302.3" r="8.1" fill="url(#gb5)"/>
<circle cx="159.0" cy="295.6" r="10.5" fill="url(#gb3)"/>
<circle cx="155.2" cy="459.3" r="14.6" fill="url(#gb4)"/>
<circle cx="306.3" cy="383.1" r="9.2" fill="url(#gb4)"/>
<circle cx="177.7" cy="484.6" r="10.9" fill="url(#gb4)"/>
<circle cx="117.7" cy="461.3" r="14.7" fill="url(#gb4)"/>
<circle cx="291.5" cy="412.1" r="10.6" fill="url(#gb5)"/>
<circle cx="172.1" cy="307.8" r="10.3" fill="url(#gb5)"/>
<circle cx="172.8" cy="394.3" r="10.8" fill="url(#gb7)"/>
<circle cx="52.5" cy="452.1" r="10.7" fill="url(#gb4)"/>
<circle cx="275.3" cy="460.0" r="9.0" fill="url(#gb4)"/>
<circle cx="204.3" cy="393.3" r="8.8" fill="url(#gb5)"/>
<circle cx="256.1" cy="428.2" r="8.2" fill="url(#gb3)"/>
<circle cx="49.5" cy="423.2" r="14.4" fill="url(#gb4)"/>
<circle cx="216.4" cy="475.5" r="9.2" fill="url(#gb4)"/>
<circle cx="285.6" cy="394.8" r="12.2" fill="url(#gb2)"/>
<circle cx="142.1" cy="289.8" r="8.9" fill="url(#gb3)"/>
<circle cx="87.3" cy="462.2" r="10.0" fill="url(#gb4)"/>
<circle cx="46.1" cy="491.9" r="12.6" fill="url(#gb4)"/>
<circle cx="287.5" cy="364.8" r="8.5" fill="url(#gb5)"/>
<circle cx="103.1" cy="452.7" r="11.5" fill="url(#gb4)"/>
<circle cx="179.5" cy="336.4" r="12.1" fill="url(#gb5)"/>
<circle cx="292.5" cy="341.0" r="14.4" fill="url(#gb5)"/>
<circle cx="112.2" cy="376.4" r="11.5" fill="url(#gb4)"/>
<circle cx="109.2" cy="483.2" r="8.3" fill="url(#gb4)"/>
<circle cx="249.5" cy="300.5" r="9.7" fill="url(#gb5)"/>
<circle cx="189.6" cy="364.7" r="9.2" fill="url(#gb6)"/>
<circle cx="51.4" cy="285.0" r="15.9" fill="url(#gb4)"/>
<circle cx="115.5" cy="425.3" r="9.5" fill="url(#gb7)"/>
<circle cx="101.5" cy="309.2" r="11.0" fill="url(#gb3)"/>
<circle cx="307.8" cy="338.2" r="11.9" fill="url(#gb4)"/>
<circle cx="204.4" cy="328.5" r="8.8" fill="url(#gb5)"/>
<circle cx="256.8" cy="351.3" r="10.5" fill="url(#gb4)"/>
<circle cx="152.4" cy="473.0" r="9.2" fill="url(#gb4)"/>
<circle cx="265.9" cy="344.3" r="8.5" fill="url(#gb4)"/>
<circle cx="192.6" cy="447.2" r="8.9" fill="url(#gb5)"/>
<circle cx="119.2" cy="407.5" r="8.9" fill="url(#gb7)"/>
<circle cx="289.0" cy="433.8" r="13.1" fill="url(#gb6)"/>
<circle cx="78.8" cy="446.3" r="10.4" fill="url(#gb4)"/>
<circle cx="120.7" cy="440.6" r="12.9" fill="url(#gb6)"/>
<circle cx="145.4" cy="305.2" r="9.0" fill="url(#gb4)"/>
<circle cx="123.5" cy="303.7" r="12.1" fill="url(#gb3)"/>
<circle cx="195.4" cy="434.8" r="11.2" fill="url(#gb7)"/>
<circle cx="103.8" cy="386.6" r="11.2" fill="url(#gb3)"/>
<circle cx="84.6" cy="352.5" r="10.0" fill="url(#gb3)"/>
<circle cx="82.6" cy="425.6" r="11.7" fill="url(#gb5)"/>
<circle cx="92.4" cy="293.9" r="12.8" fill="url(#gb3)"/>
<circle cx="88.5" cy="474.6" r="10.6" fill="url(#gb4)"/>
<circle cx="164.9" cy="365.2" r="11.0" fill="url(#gb5)"/>
<circle cx="123.7" cy="397.6" r="9.4" fill="url(#gb6)"/>
<circle cx="214.9" cy="460.7" r="13.3" fill="url(#gb4)"/>
<circle cx="245.7" cy="333.5" r="14.9" fill="url(#gb5)"/>
<circle cx="74.5" cy="345.3" r="10.2" fill="url(#gb4)"/>
<circle cx="205.3" cy="421.6" r="13.0" fill="url(#gb7)"/>
<circle cx="142.5" cy="398.4" r="13.9" fill="url(#gb8)"/>
<circle cx="137.4" cy="313.6" r="8.6" fill="url(#gb4)"/>
<circle cx="113.0" cy="293.7" r="9.4" fill="url(#gb3)"/>
<circle cx="265.1" cy="469.8" r="9.5" fill="url(#gb4)"/>
<circle cx="95.5" cy="369.5" r="14.3" fill="url(#gb4)"/>
<circle cx="238.3" cy="402.5" r="11.3" fill="url(#gb7)"/>
<circle cx="163.4" cy="341.7" r="12.1" fill="url(#gb5)"/>
<circle cx="63.7" cy="351.7" r="10.0" fill="url(#gb4)"/>
<circle cx="225.9" cy="305.2" r="8.5" fill="url(#gb5)"/>
<circle cx="260.7" cy="440.1" r="8.7" fill="url(#gb4)"/>
<circle cx="161.2" cy="430.3" r="9.2" fill="url(#gb8)"/>
<circle cx="231.7" cy="422.5" r="11.7" fill="url(#gb7)"/>
<circle cx="171.9" cy="470.7" r="11.0" fill="url(#gb3)"/>
<circle cx="208.3" cy="405.2" r="10.9" fill="url(#gb7)"/>
<circle cx="106.2" cy="324.3" r="14.7" fill="url(#gb3)"/>
<circle cx="102.8" cy="428.6" r="9.3" fill="url(#gb4)"/>
<circle cx="96.7" cy="406.2" r="14.6" fill="url(#gb5)"/>
<circle cx="62.4" cy="337.5" r="10.5" fill="url(#gb4)"/>
<circle cx="212.2" cy="488.1" r="8.6" fill="url(#gb5)"/>
<circle cx="71.0" cy="411.1" r="15.1" fill="url(#gb4)"/>
<circle cx="184.7" cy="456.5" r="8.2" fill="url(#gb4)"/>
<circle cx="235.6" cy="356.5" r="8.9" fill="url(#gb5)"/>
<circle cx="246.9" cy="411.2" r="9.6" fill="url(#gb7)"/>
<circle cx="246.4" cy="319.1" r="9.5" fill="url(#gb5)"/>
<circle cx="190.6" cy="325.0" r="11.9" fill="url(#gb5)"/>
<circle cx="54.0" cy="403.7" r="10.5" fill="url(#gb4)"/>
<circle cx="277.0" cy="335.5" r="8.0" fill="url(#gb5)"/>
<circle cx="225.7" cy="486.3" r="9.7" fill="url(#gb4)"/>
<circle cx="305.8" cy="364.7" r="8.9" fill="url(#gb5)"/>
<circle cx="188.6" cy="406.1" r="9.4" fill="url(#gb5)"/>
<circle cx="297.5" cy="355.2" r="10.4" fill="url(#gb5)"/>
<circle cx="302.5" cy="315.5" r="12.0" fill="url(#gb3)"/>
<circle cx="125.2" cy="488.9" r="11.0" fill="url(#gb4)"/>
<circle cx="115.8" cy="389.0" r="8.0" fill="url(#gb7)"/>
<circle cx="225.3" cy="360.2" r="9.0" fill="url(#gb5)"/>
<circle cx="161.7" cy="319.9" r="12.1" fill="url(#gb5)"/>
<circle cx="252.8" cy="482.6" r="8.3" fill="url(#gb3)"/>
<circle cx="229.2" cy="374.2" r="10.2" fill="url(#gb5)"/>
<circle cx="271.9" cy="398.3" r="10.5" fill="url(#gb7)"/>
<circle cx="245.4" cy="350.9" r="8.5" fill="url(#gb5)"/>
<circle cx="75.0" cy="287.7" r="15.6" fill="url(#gb3)"/>
<circle cx="152.6" cy="367.6" r="8.9" fill="url(#gb7)"/>
<circle cx="118.9" cy="359.5" r="8.8" fill="url(#gb4)"/>
<circle cx="142.0" cy="344.4" r="10.2" fill="url(#gb4)"/>
<circle cx="250.3" cy="471.7" r="10.9" fill="url(#gb4)"/>
<circle cx="239.0" cy="433.5" r="10.8" fill="url(#gb3)"/>
<circle cx="164.0" cy="410.7" r="8.3" fill="url(#gb8)"/>
<circle cx="215.9" cy="368.7" r="11.8" fill="url(#gb2)"/>
<circle cx="155.2" cy="393.3" r="8.1" fill="url(#gb7)"/>
<circle cx="198.7" cy="490.7" r="13.2" fill="url(#gb3)"/>
<circle cx="178.3" cy="371.8" r="9.8" fill="url(#gb6)"/>
<circle cx="138.3" cy="368.6" r="9.5" fill="url(#gb7)"/>
<circle cx="108.7" cy="350.9" r="13.2" fill="url(#gb4)"/>
<circle cx="266.5" cy="454.3" r="9.0" fill="url(#gb4)"/>
<circle cx="153.1" cy="408.2" r="8.4" fill="url(#gb8)"/>
<circle cx="216.7" cy="313.6" r="9.7" fill="url(#gb5)"/>
<circle cx="272.8" cy="484.5" r="10.4" fill="url(#gb5)"/>
<circle cx="152.8" cy="353.3" r="13.2" fill="url(#gb6)"/>
<circle cx="145.1" cy="330.2" r="10.6" fill="url(#gb3)"/>
<circle cx="266.3" cy="329.3" r="11.9" fill="url(#gb5)"/>
<circle cx="187.1" cy="469.8" r="14.2" fill="url(#gb5)"/>
<circle cx="227.4" cy="443.4" r="13.8" fill="url(#gb4)"/>
<circle cx="284.2" cy="321.2" r="14.8" fill="url(#gb6)"/>
<circle cx="101.7" cy="474.2" r="9.7" fill="url(#gb4)"/>
<circle cx="69.0" cy="369.3" r="14.4" fill="url(#gb4)"/>
<circle cx="297.2" cy="390.5" r="8.4" fill="url(#gb6)"/>
<circle cx="143.0" cy="488.3" r="9.3" fill="url(#gb4)"/>
<circle cx="156.5" cy="485.0" r="8.1" fill="url(#gb4)"/>
<circle cx="204.2" cy="316.0" r="9.3" fill="url(#gb6)"/>
<circle cx="200.4" cy="364.4" r="8.0" fill="url(#gb1)"/>
<circle cx="52.0" cy="363.1" r="14.5" fill="url(#gb3)"/>
<circle cx="275.8" cy="357.9" r="13.5" fill="url(#gb5)"/>
<circle cx="262.0" cy="314.7" r="11.3" fill="url(#gb5)"/>
<circle cx="307.7" cy="474.8" r="14.4" fill="url(#gb4)"/>
<circle cx="238.2" cy="385.7" r="8.0" fill="url(#gb6)"/>
<circle cx="188.0" cy="420.3" r="10.9" fill="url(#gb7)"/>
<circle cx="62.1" cy="321.1" r="13.7" fill="url(#gb3)"/>
<circle cx="274.5" cy="442.8" r="10.8" fill="url(#gb4)"/>
<circle cx="243.9" cy="369.3" r="14.5" fill="url(#gb4)"/>
<circle cx="280.1" cy="380.6" r="8.8" fill="url(#gb4)"/>
<circle cx="173.2" cy="293.8" r="11.8" fill="url(#gb4)"/>
<circle cx="287.6" cy="450.8" r="14.8" fill="url(#gb4)"/>
<circle cx="65.3" cy="440.3" r="12.6" fill="url(#gb5)"/>
<circle cx="138.9" cy="417.2" r="10.2" fill="url(#gb6)"/>
<circle cx="124.3" cy="347.1" r="12.6" fill="url(#gb3)"/>
<circle cx="193.6" cy="308.3" r="13.0" fill="url(#gb5)"/>
<circle cx="279.5" cy="305.6" r="8.5" fill="url(#gb5)"/>
<circle cx="154.8" cy="441.7" r="9.5" fill="url(#gb7)"/>
<circle cx="274.3" cy="410.9" r="9.0" fill="url(#gb7)"/>
<circle cx="187.0" cy="394.7" r="8.3" fill="url(#gb5)"/>
<circle cx="303.7" cy="419.4" r="11.7" fill="url(#gb4)"/>
<circle cx="81.2" cy="394.1" r="13.3" fill="url(#gb4)"/>
<circle cx="223.4" cy="393.8" r="13.1" fill="url(#gb3)"/>
<circle cx="70.5" cy="460.2" r="13.2" fill="url(#gb5)"/>
<circle cx="262.3" cy="416.6" r="12.9" fill="url(#gb7)"/>
<circle cx="97.0" cy="490.5" r="11.7" fill="url(#gb4)"/>
<circle cx="284.6" cy="473.5" r="14.4" fill="url(#gb5)"/>
<circle cx="125.1" cy="333.8" r="9.9" fill="url(#gb4)"/>
<circle cx="49.7" cy="346.3" r="12.0" fill="url(#gb3)"/>
<circle cx="46.1" cy="309.3" r="11.9" fill="url(#gb4)"/>
<circle cx="231.2" cy="458.4" r="9.1" fill="url(#gb4)"/>
<circle cx="175.3" cy="407.3" r="12.0" fill="url(#gb6)"/>
<circle cx="151.5" cy="423.9" r="10.6" fill="url(#gb7)"/>
<circle cx="177.5" cy="356.6" r="10.4" fill="url(#gb5)"/>
<circle cx="196.5" cy="354.3" r="8.9" fill="url(#gb6)"/>
<circle cx="133.1" cy="447.4" r="11.4" fill="url(#gb4)"/>
<circle cx="126.1" cy="368.0" r="8.1" fill="url(#gb7)"/>
<circle cx="308.5" cy="454.2" r="10.7" fill="url(#gb4)"/>
<circle cx="46.0" cy="328.4" r="15.0" fill="url(#gb4)"/>
<circle cx="238.6" cy="305.4" r="9.5" fill="url(#gb5)"/>
<circle cx="300.5" cy="401.7" r="10.3" fill="url(#gb3)"/>
<circle cx="265.8" cy="302.5" r="8.6" fill="url(#gb5)"/>
<circle cx="263.9" cy="374.7" r="14.9" fill="url(#gb4)"/>
<circle cx="218.7" cy="326.6" r="10.0" fill="url(#gb5)"/>
<circle cx="182.4" cy="437.0" r="8.6" fill="url(#gb2)"/>
<circle cx="202.1" cy="472.6" r="9.4" fill="url(#gb4)"/>
<circle cx="176.4" cy="382.5" r="8.8" fill="url(#gb5)"/>
<circle cx="215.8" cy="381.7" r="8.2" fill="url(#gb5)"/>
<circle cx="279.3" cy="292.4" r="8.0" fill="url(#gb10)" opacity="0.85"/>
<circle cx="205.8" cy="293.3" r="10.8" fill="url(#gb10)" opacity="0.85"/>
<circle cx="235.6" cy="298.0" r="6.2" fill="url(#gb10)" opacity="0.85"/>
<circle cx="248.6" cy="280.4" r="8.5" fill="url(#gb10)" opacity="0.85"/>
<circle cx="259.5" cy="298.1" r="8.6" fill="url(#gb10)" opacity="0.85"/>
<circle cx="292.9" cy="283.8" r="6.6" fill="url(#gb10)" opacity="0.85"/>
<circle cx="184.8" cy="281.7" r="7.3" fill="url(#gb10)" opacity="0.85"/>
<circle cx="186.0" cy="299.2" r="10.3" fill="url(#gb10)" opacity="0.85"/>
<circle cx="280.2" cy="276.0" r="7.3" fill="url(#gb10)" opacity="0.85"/>
<circle cx="196.6" cy="281.0" r="10.0" fill="url(#gb10)" opacity="0.85"/>
<circle cx="264.5" cy="280.2" r="7.5" fill="url(#gb10)" opacity="0.85"/>
<circle cx="292.5" cy="301.9" r="7.2" fill="url(#gb10)" opacity="0.85"/>
<circle cx="225.4" cy="276.5" r="7.0" fill="url(#gb10)" opacity="0.85"/>
<circle cx="229.9" cy="289.1" r="8.9" fill="url(#gb10)" opacity="0.85"/>
<circle cx="306.1" cy="285.5" r="10.9" fill="url(#gb10)" opacity="0.85"/>
<circle cx="268.6" cy="296.4" r="7.0" fill="url(#gb10)" opacity="0.85"/>
<circle cx="198.3" cy="302.0" r="8.0" fill="url(#gb10)" opacity="0.85"/>
<circle cx="299.7" cy="295.0" r="7.4" fill="url(#gb10)" opacity="0.85"/>
<circle cx="248.2" cy="294.3" r="9.0" fill="url(#gb10)" opacity="0.85"/>
<circle cx="214.1" cy="275.6" r="7.8" fill="url(#gb10)" opacity="0.85"/>
<circle cx="218.8" cy="288.1" r="6.7" fill="url(#gb10)" opacity="0.85"/>
<circle cx="192.1" cy="290.9" r="7.2" fill="url(#gb10)" opacity="0.85"/>
<circle cx="218.9" cy="300.1" r="8.0" fill="url(#gb10)" opacity="0.85"/>
<circle cx="298.2" cy="276.0" r="7.5" fill="url(#gb10)" opacity="0.85"/>
<circle cx="272.9" cy="283.2" r="7.2" fill="url(#gb10)" opacity="0.85"/>
<circle cx="309.0" cy="301.1" r="7.8" fill="url(#gb10)" opacity="0.85"/>
<circle cx="233.4" cy="278.2" r="6.1" fill="url(#gb10)" opacity="0.85"/>
<circle cx="261.3" cy="289.0" r="7.0" fill="url(#gb10)" opacity="0.85"/>
<circle cx="276.0" cy="301.2" r="6.7" fill="url(#gb10)" opacity="0.85"/>
<circle cx="289.1" cy="275.4" r="8.0" fill="url(#gb10)" opacity="0.85"/>
<circle cx="240.7" cy="286.4" r="6.8" fill="url(#gb10)" opacity="0.85"/>
<circle cx="288.2" cy="290.6" r="7.0" fill="url(#gb10)" opacity="0.85"/>
<circle cx="104.0" cy="293.0" r="10.0" fill="url(#gb8)"/>
<circle cx="113.0" cy="288.0" r="9.0" fill="url(#gb8)"/>
<circle cx="110.0" cy="302.0" r="8.0" fill="url(#gb8)"/>
<circle cx="120.0" cy="298.0" r="10.0" fill="url(#gb6)"/>
<circle cx="126.0" cy="318.0" r="9.0" fill="url(#gb4)"/>
<circle cx="132.0" cy="322.0" r="9.0" fill="url(#gb4)"/>
<circle cx="146.0" cy="322.0" r="11.0" fill="url(#gb2)"/>
<circle cx="128.0" cy="300.0" r="10.0" fill="url(#gb4)"/>
<circle cx="151.0" cy="312.0" r="12.0" fill="url(#gb4)"/>
<circle cx="158.0" cy="318.0" r="9.0" fill="url(#gb4)"/>
<circle cx="150.0" cy="330.0" r="10.0" fill="url(#gb2)"/>
<ellipse cx="141" cy="306" rx="21" ry="18" fill="url(#prom)"/>
<ellipse cx="207" cy="365" rx="22" ry="12" fill="#7a4210" opacity="0.7" filter="url(#blur3)"/>
<circle cx="251" cy="347" r="15" fill="url(#gb4)"/>
<circle cx="74" cy="400" r="13" fill="url(#gb4)"/>
<circle cx="192" cy="313" r="11" fill="url(#prom)"/>
<circle cx="207" cy="311" r="10" fill="url(#prom)"/>
<circle cx="199" cy="326" r="11" fill="url(#prom)"/>
<ellipse cx="185" cy="344" rx="10" ry="15" fill="url(#prom)"/>
<ellipse cx="201" cy="347" rx="17" ry="18" fill="url(#prom)"/>
<circle cx="252.0" cy="350.0" r="15.0" fill="url(#gb4)"/>
<circle cx="272.0" cy="365.0" r="11.0" fill="url(#gb4)"/>
<circle cx="60.0" cy="385.0" r="12.0" fill="url(#gb4)"/>
<circle cx="72.0" cy="410.0" r="13.0" fill="url(#gb6)"/>
<circle cx="85.0" cy="440.0" r="12.0" fill="url(#gb4)"/>
<circle cx="100.0" cy="400.0" r="10.0" fill="url(#gb4)"/>
<circle cx="150.0" cy="470.0" r="12.0" fill="url(#gb6)"/>
<circle cx="195.0" cy="470.0" r="13.0" fill="url(#gb4)"/>
<circle cx="255.0" cy="465.0" r="12.0" fill="url(#gb4)"/>
<circle cx="285.0" cy="440.0" r="11.0" fill="url(#gb4)"/>
<circle cx="230.0" cy="455.0" r="10.0" fill="url(#gb6)"/>
</g>
<g filter="url(#blur3)" fill="none" stroke-linecap="round">
<path d="M190,410 Q210,398 240,394 Q266,392 280,398" stroke="#5a2a06" stroke-width="6" opacity="0.7"/>
<path d="M192,432 Q200,422 214,420" stroke="#5a2a06" stroke-width="5" opacity="0.55"/>
<path d="M88,384 Q94,408 86,432" stroke="#5a2a06" stroke-width="5" opacity="0.55"/>
<path d="M164,330 Q173,362 170,398" stroke="#5a2a06" stroke-width="5" opacity="0.45"/>
<path d="M122,326 Q142,334 162,328" stroke="#5a2a06" stroke-width="5" opacity="0.5"/>
<path d="M230,372 Q236,356 232,338" stroke="#5a2a06" stroke-width="5" opacity="0.45"/>
<path d="M110,360 Q106,390 112,430" stroke="#5a2a06" stroke-width="4" opacity="0.4"/>
</g>
<path d="M55,280 L111,280 L104,282 L98,286 L95,292 L96,299 L101,305 L108,310 L114,316 L118,323 L116,330 L109,336 L100,342 L92,348 L86,353 L80,360 L71,367 L62,372 L55,374 Z" fill="#bdbdbd"/>
<path d="M126,280 L215,280 L215,297 L205,300 L190,301 L176,303 L165,305 L161,300 L158,293 L151,288 L141,287 L132,286 L126,283 Z" fill="#bdbdbd"/>
<g stroke="#c4e4b0" stroke-width="2.1" stroke-linecap="round">
<line x1="112.8" y1="351.6" x2="115" y2="358"/>
<line x1="118.6" y1="353.9" x2="115" y2="358"/>
<line x1="115" y1="358" x2="115" y2="369"/>
<line x1="115" y1="369" x2="115" y2="382.8"/>
<line x1="115" y1="382.8" x2="107" y2="377"/>
<line x1="107" y1="377" x2="102.4" y2="381.7"/>
<line x1="102.4" y1="381.7" x2="94.3" y2="377"/>
<line x1="102.4" y1="381.7" x2="103.5" y2="386.3"/>
<line x1="115" y1="382.8" x2="112.8" y2="389.8"/>
<line x1="112.8" y1="389.8" x2="110.5" y2="394.4"/>
<line x1="112.8" y1="389.8" x2="117.4" y2="393.2"/>
<line x1="117.4" y1="393.2" x2="127.8" y2="395.6"/>
<line x1="127.8" y1="395.6" x2="125.5" y2="401.3"/>
<line x1="110.5" y1="394.4" x2="108.1" y2="402.5"/>
<line x1="108.1" y1="402.5" x2="101.2" y2="403.7"/>
<line x1="108.1" y1="402.5" x2="113.9" y2="410.6"/>
<line x1="113.9" y1="410.6" x2="107" y2="410.6"/>
<line x1="113.9" y1="410.6" x2="115" y2="418.7"/>
<line x1="115" y1="418.7" x2="109.3" y2="419.9"/>
<line x1="115" y1="418.7" x2="123.2" y2="422.2"/>
<line x1="123.2" y1="422.2" x2="131.3" y2="421"/>
<line x1="123.2" y1="422.2" x2="131.3" y2="425.6"/>
<line x1="123.2" y1="422.2" x2="124.4" y2="431.4"/>
<line x1="109.3" y1="419.9" x2="113.9" y2="432.6"/>
<line x1="113.9" y1="432.6" x2="117.4" y2="434.9"/>
<line x1="117.4" y1="434.9" x2="124.4" y2="431.4"/>
<line x1="124.4" y1="431.4" x2="131.3" y2="437.2"/>
<line x1="131.3" y1="437.2" x2="137.1" y2="434.9"/>
<line x1="131.3" y1="437.2" x2="130.1" y2="443"/>
<line x1="103.5" y1="386.3" x2="98" y2="392"/>
<line x1="113.9" y1="410.6" x2="121" y2="407"/>
<line x1="109.3" y1="419.9" x2="104" y2="426"/>
<line x1="137.1" y1="434.9" x2="140" y2="442"/>
</g>
<circle cx="112.8" cy="351.6" r="2.8" fill="url(#atomGr)"/>
<circle cx="118.6" cy="353.9" r="2.8" fill="url(#atomGr)"/>
<circle cx="115" cy="358" r="2.8" fill="url(#atomW)"/>
<circle cx="115" cy="369" r="2.8" fill="url(#atomGr)"/>
<circle cx="94.3" cy="377" r="2.6" fill="url(#atomR)"/>
<circle cx="102.4" cy="381.7" r="2.8" fill="url(#atomW)"/>
<circle cx="107" cy="377" r="2.8" fill="url(#atomW)"/>
<circle cx="103.5" cy="386.3" r="2.8" fill="url(#atomP)"/>
<circle cx="115" cy="382.8" r="2.8" fill="url(#atomGr)"/>
<circle cx="112.8" cy="389.8" r="2.6" fill="url(#atomB)"/>
<circle cx="110.5" cy="394.4" r="2.6" fill="url(#atomB)"/>
<circle cx="117.4" cy="393.2" r="2.8" fill="url(#atomW)"/>
<circle cx="127.8" cy="395.6" r="2.8" fill="url(#atomGr)"/>
<circle cx="125.5" cy="401.3" r="2.6" fill="url(#atomR)"/>
<circle cx="101.2" cy="403.7" r="2.6" fill="url(#atomR)"/>
<circle cx="108.1" cy="402.5" r="2.8" fill="url(#atomW)"/>
<circle cx="107" cy="410.6" r="2.6" fill="url(#atomR)"/>
<circle cx="113.9" cy="410.6" r="2.8" fill="url(#atomGr)"/>
<circle cx="115" cy="418.7" r="2.6" fill="url(#atomB)"/>
<circle cx="109.3" cy="419.9" r="2.8" fill="url(#atomGr)"/>
<circle cx="123.2" cy="422.2" r="2.8" fill="url(#atomW)"/>
<circle cx="131.3" cy="425.6" r="2.8" fill="url(#atomP)"/>
<circle cx="131.3" cy="421" r="2.6" fill="url(#atomR)"/>
<circle cx="113.9" cy="432.6" r="2.8" fill="url(#atomW)"/>
<circle cx="124.4" cy="431.4" r="2.8" fill="url(#atomW)"/>
<circle cx="131.3" cy="437.2" r="2.6" fill="url(#atomB)"/>
<circle cx="137.1" cy="434.9" r="2.8" fill="url(#atomW)"/>
<circle cx="130.1" cy="443" r="2.8" fill="url(#atomGr)"/>
<circle cx="117.4" cy="434.9" r="2.8" fill="url(#atomGr)"/>
<circle cx="98" cy="392" r="2.8" fill="url(#atomGr)"/>
<circle cx="121" cy="407" r="2.8" fill="url(#atomGr)"/>
<circle cx="104" cy="426" r="2.8" fill="url(#atomGr)"/>
<circle cx="140" cy="442" r="2.8" fill="url(#atomGr)"/>
</g>
<ellipse cx="124.5" cy="159" rx="52.5" ry="66" transform="rotate(14.7 124.5 159)" fill="none" stroke="#fff6e6" stroke-width="2.3"/>
<ellipse cx="206" cy="108" rx="20.8" ry="33.5" transform="rotate(-22 206 108)" fill="none" stroke="#fff6e6" stroke-width="2.3"/>
<ellipse cx="235.6" cy="172" rx="65" ry="26" transform="rotate(-16 235.6 172)" fill="none" stroke="#fff6e6" stroke-width="2.3"/>
<line x1="83" y1="46" x2="95.4" y2="63.5" stroke="#fff" stroke-width="1.9"/><path d="M100,70 L92.1,65.8 L98.6,61.2 Z" fill="#fff"/>
<line x1="157" y1="31" x2="171.3" y2="98.7" stroke="#fff" stroke-width="1.9"/><path d="M173,106.5 L167.4,99.5 L175.3,97.8 Z" fill="#fff"/>
<line x1="65" y1="107" x2="75.0" y2="119.7" stroke="#fff" stroke-width="1.9"/><path d="M80,126 L71.9,122.2 L78.2,117.2 Z" fill="#fff"/>
<line x1="244.6" y1="50.6" x2="226.4" y2="77.7" stroke="#fff" stroke-width="1.9"/><path d="M222,84.4 L223.1,75.5 L229.8,80.0 Z" fill="#fff"/>
<line x1="296" y1="88" x2="281.2" y2="131.4" stroke="#fff" stroke-width="1.9"/><path d="M278.6,139 L277.4,130.1 L285.0,132.7 Z" fill="#fff"/>
<line x1="198.2" y1="225" x2="149.9" y2="188.8" stroke="#fff" stroke-width="1.9"/><path d="M143.5,184 L152.3,185.6 L147.5,192.0 Z" fill="#fff"/>
<rect x="34.6" y="19.6" width="74.8" height="25.8" fill="#fafdff" stroke="#7390bd" stroke-width="1.8"/><text x="40.0" y="37.7" font-size="14.8" font-weight="bold" fill="#166216" stroke="#166216" stroke-width="0.35">Lys178</text>
<rect x="119.1" y="5.6" width="65.3" height="24.8" fill="#fafdff" stroke="#7390bd" stroke-width="1.8"/><text x="124.6" y="23.7" font-size="14.8" font-weight="bold" fill="#166216" stroke="#166216" stroke-width="0.35">Tyr180</text>
<rect x="16.1" y="75.6" width="71.3" height="30.8" fill="#fafdff" stroke="#7390bd" stroke-width="1.8"/><text x="29.3" y="97" font-size="12.6" font-weight="bold" fill="#050505" stroke="#050505" stroke-width="0.35">Cavity1</text>
<rect x="212.6" y="19.6" width="67.3" height="30.3" fill="#fafdff" stroke="#7390bd" stroke-width="1.8"/><text x="223.6" y="41.2" font-size="12.6" font-weight="bold" fill="#050505" stroke="#050505" stroke-width="0.35">Cavity2</text>
<rect x="259.8" y="57.0" width="66.6" height="30.4" fill="#fafdff" stroke="#7390bd" stroke-width="1.8"/><text x="270.9" y="78.3" font-size="12.6" font-weight="bold" fill="#050505" stroke="#050505" stroke-width="0.35">Cavity3</text>
<rect x="58.6" y="221.1" width="53.3" height="24.8" fill="#fafdff" stroke="#7390bd" stroke-width="1.8"/><text x="64.9" y="238.9" font-size="14.6" font-weight="bold" fill="#050505" stroke="#050505" stroke-width="0.35">CDK2</text>
<rect x="198.6" y="225.6" width="62.8" height="25.8" fill="#fafdff" stroke="#7390bd" stroke-width="1.8"/><text x="204.9" y="243.8" font-size="14.4" font-weight="bold" fill="#050505" stroke="#050505" stroke-width="0.35">LAALS</text>
<ellipse cx="127.3" cy="398" rx="51" ry="60.5" transform="rotate(10 127.3 398)" fill="none" stroke="#fff6e6" stroke-width="2.3"/>
<ellipse cx="199.3" cy="354.8" rx="21" ry="32.2" transform="rotate(-43 199.3 354.8)" fill="none" stroke="#fff6e6" stroke-width="2.3"/>
<ellipse cx="233" cy="416" rx="64" ry="25" transform="rotate(-17 233 416)" fill="none" stroke="#fff6e6" stroke-width="2.3"/>
<line x1="63.8" y1="350.2" x2="78.7" y2="361.6" stroke="#fff" stroke-width="1.9"/><path d="M85.1,366.5 L76.3,364.8 L81.2,358.5 Z" fill="#fff"/>
<line x1="237.6" y1="301.8" x2="215.5" y2="329.6" stroke="#fff" stroke-width="1.9"/><path d="M210.5,335.9 L212.3,327.1 L218.6,332.1 Z" fill="#fff"/>
<line x1="291.5" y1="335.7" x2="282.0" y2="380.0" stroke="#fff" stroke-width="1.9"/><path d="M280.3,387.8 L278.1,379.1 L285.9,380.8 Z" fill="#fff"/>
<rect x="18.6" y="319.6" width="69.2" height="28.6" fill="#fafdff" stroke="#7390bd" stroke-width="1.8"/><text x="31.9" y="339.8" font-size="12.2" font-weight="bold" fill="#050505" stroke="#050505" stroke-width="0.35">Cavity1</text>
<rect x="215.0" y="271.6" width="65.8" height="27.8" fill="#fafdff" stroke="#7390bd" stroke-width="1.8"/><text x="225.9" y="291.6" font-size="12.2" font-weight="bold" fill="#050505" stroke="#050505" stroke-width="0.35">Cavity2</text>
<rect x="261.6" y="306.6" width="65.2" height="27.8" fill="#fafdff" stroke="#7390bd" stroke-width="1.8"/><text x="272.1" y="327.1" font-size="12.2" font-weight="bold" fill="#050505" stroke="#050505" stroke-width="0.35">Cavity3</text>
<rect x="59.3" y="456.0" width="53.1" height="22.4" fill="#fafdff" stroke="#7390bd" stroke-width="1.8"/><text x="64.5" y="472.5" font-size="14.6" font-weight="bold" fill="#050505" stroke="#050505" stroke-width="0.35">CDK9</text>
<text x="-0.6" y="15.8" font-size="19.3" fill="#111">A</text><text x="14.0" y="15.8" font-size="19.3" fill="#111">)</text>
<text x="0.3" y="283.8" font-size="19.3" fill="#111">B</text><text x="14.0" y="283.8" font-size="19.3" fill="#111">)</text>
<text x="336.9" y="15.9" font-size="19.3" fill="#111">C</text><text x="352.0" y="15.9" font-size="19.3" fill="#111">)</text>
<text x="428" y="55.2" font-size="12.3" fill="#1e1e1e" lengthAdjust="spacingAndGlyphs" textLength="67">SDS Buffer</text><line x1="428" y1="57.6" x2="495" y2="57.6" stroke="#444" stroke-width="1"/>
<text x="686" y="55.4" font-size="12.3" fill="#1e1e1e" lengthAdjust="spacingAndGlyphs" textLength="42">LAALS</text><line x1="686" y1="58" x2="728" y2="58" stroke="#444" stroke-width="1"/>
<text x="440.5" y="291.6" font-size="12.3" fill="#1e1e1e" lengthAdjust="spacingAndGlyphs" textLength="25.5">GST</text><line x1="440.5" y1="294.2" x2="466" y2="294.2" stroke="#444" stroke-width="1"/>
<text x="651" y="293.4" font-size="12.3" fill="#1e1e1e" lengthAdjust="spacingAndGlyphs" textLength="62.8">GST-CDK9</text><line x1="651" y1="296" x2="713.8" y2="296" stroke="#444" stroke-width="1"/>
<line x1="368.2" y1="61.0" x2="368.2" y2="219.5" stroke="#333" stroke-width="1"/>
<line x1="368.2" y1="219.5" x2="576.0" y2="219.5" stroke="#333" stroke-width="1"/>
<line x1="364.2" y1="219.5" x2="368.2" y2="219.5" stroke="#333" stroke-width="0.8"/>
<text transform="translate(363.4 222.3) scale(0.9 1)" font-size="8.5" text-anchor="end" fill="#161616" font-weight="normal" >0</text>
<line x1="365.7" y1="211.9" x2="368.2" y2="211.9" stroke="#333" stroke-width="0.8"/>
<line x1="365.7" y1="204.2" x2="368.2" y2="204.2" stroke="#333" stroke-width="0.8"/>
<line x1="365.7" y1="196.6" x2="368.2" y2="196.6" stroke="#333" stroke-width="0.8"/>
<line x1="364.2" y1="189.0" x2="368.2" y2="189.0" stroke="#333" stroke-width="0.8"/>
<text transform="translate(363.4 191.8) scale(0.9 1)" font-size="8.5" text-anchor="end" fill="#161616" font-weight="normal" >20</text>
<line x1="365.7" y1="181.4" x2="368.2" y2="181.4" stroke="#333" stroke-width="0.8"/>
<line x1="365.7" y1="173.8" x2="368.2" y2="173.8" stroke="#333" stroke-width="0.8"/>
<line x1="365.7" y1="166.1" x2="368.2" y2="166.1" stroke="#333" stroke-width="0.8"/>
<line x1="364.2" y1="158.5" x2="368.2" y2="158.5" stroke="#333" stroke-width="0.8"/>
<text transform="translate(363.4 161.3) scale(0.9 1)" font-size="8.5" text-anchor="end" fill="#161616" font-weight="normal" >40</text>
<line x1="365.7" y1="150.9" x2="368.2" y2="150.9" stroke="#333" stroke-width="0.8"/>
<line x1="365.7" y1="143.2" x2="368.2" y2="143.2" stroke="#333" stroke-width="0.8"/>
<line x1="365.7" y1="135.6" x2="368.2" y2="135.6" stroke="#333" stroke-width="0.8"/>
<line x1="364.2" y1="128.0" x2="368.2" y2="128.0" stroke="#333" stroke-width="0.8"/>
<text transform="translate(363.4 130.8) scale(0.9 1)" font-size="8.5" text-anchor="end" fill="#161616" font-weight="normal" >60</text>
<line x1="365.7" y1="120.4" x2="368.2" y2="120.4" stroke="#333" stroke-width="0.8"/>
<line x1="365.7" y1="112.8" x2="368.2" y2="112.8" stroke="#333" stroke-width="0.8"/>
<line x1="365.7" y1="105.1" x2="368.2" y2="105.1" stroke="#333" stroke-width="0.8"/>
<line x1="364.2" y1="97.5" x2="368.2" y2="97.5" stroke="#333" stroke-width="0.8"/>
<text transform="translate(363.4 100.3) scale(0.9 1)" font-size="8.5" text-anchor="end" fill="#161616" font-weight="normal" >80</text>
<line x1="365.7" y1="89.9" x2="368.2" y2="89.9" stroke="#333" stroke-width="0.8"/>
<line x1="365.7" y1="82.2" x2="368.2" y2="82.2" stroke="#333" stroke-width="0.8"/>
<line x1="365.7" y1="74.6" x2="368.2" y2="74.6" stroke="#333" stroke-width="0.8"/>
<line x1="364.2" y1="67.0" x2="368.2" y2="67.0" stroke="#333" stroke-width="0.8"/>
<text transform="translate(363.4 69.8) scale(0.9 1)" font-size="8.5" text-anchor="end" fill="#161616" font-weight="normal" >100</text>
<line x1="368.6" y1="219.5" x2="368.6" y2="224.5" stroke="#333" stroke-width="0.8"/>
<text transform="translate(368.6 234.4) scale(0.9 1)" font-size="8.5" text-anchor="middle" fill="#161616" font-weight="normal" >460</text>
<line x1="375.1" y1="219.5" x2="375.1" y2="222.5" stroke="#333" stroke-width="0.8"/>
<line x1="381.6" y1="219.5" x2="381.6" y2="222.5" stroke="#333" stroke-width="0.8"/>
<line x1="388.1" y1="219.5" x2="388.1" y2="222.5" stroke="#333" stroke-width="0.8"/>
<line x1="394.6" y1="219.5" x2="394.6" y2="222.5" stroke="#333" stroke-width="0.8"/>
<line x1="401.1" y1="219.5" x2="401.1" y2="224.5" stroke="#333" stroke-width="0.8"/>
<text transform="translate(401.1 234.4) scale(0.9 1)" font-size="8.5" text-anchor="middle" fill="#161616" font-weight="normal" >465</text>
<line x1="407.6" y1="219.5" x2="407.6" y2="222.5" stroke="#333" stroke-width="0.8"/>
<line x1="414.1" y1="219.5" x2="414.1" y2="222.5" stroke="#333" stroke-width="0.8"/>
<line x1="420.6" y1="219.5" x2="420.6" y2="222.5" stroke="#333" stroke-width="0.8"/>
<line x1="427.1" y1="219.5" x2="427.1" y2="222.5" stroke="#333" stroke-width="0.8"/>
<line x1="433.6" y1="219.5" x2="433.6" y2="224.5" stroke="#333" stroke-width="0.8"/>
<text transform="translate(433.6 234.4) scale(0.9 1)" font-size="8.5" text-anchor="middle" fill="#161616" font-weight="normal" >470</text>
<line x1="440.1" y1="219.5" x2="440.1" y2="222.5" stroke="#333" stroke-width="0.8"/>
<line x1="446.6" y1="219.5" x2="446.6" y2="222.5" stroke="#333" stroke-width="0.8"/>
<line x1="453.1" y1="219.5" x2="453.1" y2="222.5" stroke="#333" stroke-width="0.8"/>
<line x1="459.6" y1="219.5" x2="459.6" y2="222.5" stroke="#333" stroke-width="0.8"/>
<line x1="466.1" y1="219.5" x2="466.1" y2="224.5" stroke="#333" stroke-width="0.8"/>
<text transform="translate(466.1 234.4) scale(0.9 1)" font-size="8.5" text-anchor="middle" fill="#161616" font-weight="normal" >475</text>
<line x1="472.6" y1="219.5" x2="472.6" y2="222.5" stroke="#333" stroke-width="0.8"/>
<line x1="479.1" y1="219.5" x2="479.1" y2="222.5" stroke="#333" stroke-width="0.8"/>
<line x1="485.6" y1="219.5" x2="485.6" y2="222.5" stroke="#333" stroke-width="0.8"/>
<line x1="492.1" y1="219.5" x2="492.1" y2="222.5" stroke="#333" stroke-width="0.8"/>
<line x1="498.6" y1="219.5" x2="498.6" y2="224.5" stroke="#333" stroke-width="0.8"/>
<text transform="translate(498.6 234.4) scale(0.9 1)" font-size="8.5" text-anchor="middle" fill="#161616" font-weight="normal" >480</text>
<line x1="505.1" y1="219.5" x2="505.1" y2="222.5" stroke="#333" stroke-width="0.8"/>
<line x1="511.6" y1="219.5" x2="511.6" y2="222.5" stroke="#333" stroke-width="0.8"/>
<line x1="518.1" y1="219.5" x2="518.1" y2="222.5" stroke="#333" stroke-width="0.8"/>
<line x1="524.6" y1="219.5" x2="524.6" y2="222.5" stroke="#333" stroke-width="0.8"/>
<line x1="531.1" y1="219.5" x2="531.1" y2="224.5" stroke="#333" stroke-width="0.8"/>
<text transform="translate(531.1 234.4) scale(0.9 1)" font-size="8.5" text-anchor="middle" fill="#161616" font-weight="normal" >485</text>
<line x1="537.6" y1="219.5" x2="537.6" y2="222.5" stroke="#333" stroke-width="0.8"/>
<line x1="544.1" y1="219.5" x2="544.1" y2="222.5" stroke="#333" stroke-width="0.8"/>
<line x1="550.6" y1="219.5" x2="550.6" y2="222.5" stroke="#333" stroke-width="0.8"/>
<line x1="557.1" y1="219.5" x2="557.1" y2="222.5" stroke="#333" stroke-width="0.8"/>
<line x1="563.6" y1="219.5" x2="563.6" y2="224.5" stroke="#333" stroke-width="0.8"/>
<text transform="translate(563.6 234.4) scale(0.9 1)" font-size="8.5" text-anchor="middle" fill="#161616" font-weight="normal" >490</text>
<line x1="570.1" y1="219.5" x2="570.1" y2="222.5" stroke="#333" stroke-width="0.8"/>
<polyline fill="none" stroke="#111" stroke-width="1.0" stroke-linejoin="round" points="368.6,200.1 369.1,211.3 369.6,212.8 370.2,212.7 370.7,214.1 371.2,217.4 371.7,216.0 372.2,214.0 372.8,215.9 373.3,217.3 373.8,217.8 374.3,217.5 374.8,219.0 375.4,218.8 375.9,216.3 376.4,216.8 376.9,216.3 377.4,213.4 378.0,217.8 378.5,218.6 379.0,217.1 379.5,218.7 380.0,217.6 380.6,218.4 381.1,218.7 381.6,217.4 382.1,217.9 382.6,218.8 383.2,217.3 383.7,218.3 384.2,218.9 384.7,217.9 385.2,213.9 385.8,208.1 386.3,202.8 386.8,195.4 387.3,186.9 387.8,178.4 388.4,176.2 388.9,179.4 389.4,179.5 389.9,179.5 390.4,180.0 391.0,181.2 391.5,182.4 392.0,182.3 392.5,183.1 393.0,185.0 393.6,194.6 394.1,204.1 394.6,207.5 395.1,206.2 395.6,205.1 396.2,203.6 396.7,201.3 397.2,199.6 397.7,204.7 398.2,209.9 398.8,212.1 399.3,216.4 399.8,215.6 400.3,212.9 400.8,212.4 401.4,210.9 401.9,213.4 402.4,215.3 402.9,215.3 403.4,218.5 404.0,216.2 404.5,215.5 405.0,214.1 405.5,215.7 406.0,215.4 406.6,216.5 407.1,212.0 407.6,211.9 408.1,213.3 408.6,216.5 409.2,213.9 409.7,217.5 410.2,216.4 410.7,213.9 411.2,214.6 411.8,214.4 412.3,212.1 412.8,216.4 413.3,216.1 413.8,217.5 414.4,217.9 414.9,214.1 415.4,212.4 415.9,209.9 416.4,210.3 417.0,211.6 417.5,212.1 418.0,210.5 418.5,213.3 419.0,215.4 419.6,217.1 420.1,218.4 420.6,216.1 421.1,217.9 421.6,218.1 422.2,218.6 422.7,217.2 423.2,218.9 423.7,218.1 424.2,217.9 424.8,216.9 425.3,218.5 425.8,217.7 426.3,217.9 426.8,217.7 427.4,218.0 427.9,215.9 428.4,214.1 428.9,215.0 429.4,216.1 430.0,218.0 430.5,216.3 431.0,218.9 431.5,216.1 432.0,218.7 432.6,218.3 433.1,218.0 433.6,216.7 434.1,215.2 434.6,214.7 435.2,215.9 435.7,217.3 436.2,218.6 436.7,218.5 437.2,218.0 437.8,217.4 438.3,218.2 438.8,216.9 439.3,214.9 439.8,210.3 440.4,211.2 440.9,213.7 441.4,216.5 441.9,214.8 442.4,207.6 443.0,202.2 443.5,205.1 444.0,211.5 444.5,216.4 445.0,212.2 445.6,203.4 446.1,201.0 446.6,208.1 447.1,215.4 447.6,212.1 448.2,203.8 448.7,200.8 449.2,208.5 449.7,215.7 450.2,217.0 450.8,217.8 451.3,211.4 451.8,207.9 452.3,206.1 452.8,213.5 453.4,216.0 453.9,217.4 454.4,217.2 454.9,214.8 455.4,209.3 456.0,205.0 456.5,208.1 457.0,211.5 457.5,217.4 458.0,217.8 458.6,216.0 459.1,216.8 459.6,212.9 460.1,214.5 460.6,213.6 461.2,217.3 461.7,217.9 462.2,214.7 462.7,209.4 463.2,206.4 463.8,207.3 464.3,215.3 464.8,218.1 465.3,216.2 465.8,216.0 466.4,218.5 466.9,217.3 467.4,217.9 467.9,217.7 468.4,216.9 469.0,213.6 469.5,214.3 470.0,216.3 470.5,216.5 471.0,217.5 471.6,218.5 472.1,217.3 472.6,217.6 473.1,216.2 473.6,218.8 474.2,218.8 474.7,218.5 475.2,217.3 475.7,214.9 476.2,216.0 476.8,215.6 477.3,216.6 477.8,217.3 478.3,216.4 478.8,217.7 479.4,218.4 479.9,217.3 480.4,217.4 480.9,214.3 481.4,217.4 482.0,216.2 482.5,213.6 483.0,216.3 483.5,217.9 484.0,218.0 484.6,218.4 485.1,218.9 485.6,216.9 486.1,218.2 486.6,217.8 487.2,218.3 487.7,217.9 488.2,217.6 488.7,217.4 489.2,215.6 489.8,216.0 490.3,212.8 490.8,213.2 491.3,217.2 491.8,217.7 492.4,212.8 492.9,213.2 493.4,216.2 493.9,215.9 494.4,217.8 495.0,217.2 495.5,218.7 496.0,217.5 496.5,218.0 497.0,218.5 497.6,218.0 498.1,218.4 498.6,217.4 499.1,217.5 499.6,216.5 500.2,215.9 500.7,215.9 501.2,214.7 501.7,218.3 502.2,218.7 502.8,218.7 503.3,218.4 503.8,216.6 504.3,216.9 504.8,217.9 505.4,218.6 505.9,216.8 506.4,217.0 506.9,215.3 507.4,215.8 508.0,217.7 508.5,216.2 509.0,216.3 509.5,217.0 510.0,216.1 510.6,216.2 511.1,217.9 511.6,218.3 512.1,219.0 512.6,217.2 513.2,217.1 513.7,216.8 514.2,216.0 514.7,214.5 515.2,213.9 515.8,217.1 516.3,217.2 516.8,218.0 517.3,218.6 517.8,217.0 518.4,210.4 518.9,210.3 519.4,215.1 519.9,218.3 520.4,218.5 521.0,216.9 521.5,217.1 522.0,218.8 522.5,218.1 523.0,216.9 523.6,218.9 524.1,217.1 524.6,218.1 525.1,215.2 525.6,212.8 526.2,211.0 526.7,207.5 527.2,200.6 527.7,193.0 528.2,185.0 528.8,173.4 529.3,161.9 529.8,150.2 530.3,135.4 530.8,120.7 531.4,105.6 531.9,93.2 532.4,80.6 532.9,67.8 533.4,82.7 534.0,101.7 534.5,120.6 535.0,139.5 535.5,158.7 536.0,180.1 536.6,193.7 537.1,184.9 537.6,176.2 538.1,168.9 538.6,162.4 539.2,170.8 539.7,180.7 540.2,187.7 540.7,193.5 541.2,198.2 541.8,197.3 542.3,196.1 542.8,194.4 543.3,192.9 543.8,191.6 544.4,195.5 544.9,199.2 545.4,205.1 545.9,207.2 546.4,209.3 547.0,210.9 547.5,213.2 548.0,218.4 548.5,218.3 549.0,218.5 549.6,218.7 550.1,218.8 550.6,217.6 551.1,215.6 551.6,216.5 552.2,212.7 552.7,213.9 553.2,214.6 553.7,217.9 554.2,218.0 554.8,218.2 555.3,218.6 555.8,218.1 556.3,215.3 556.8,216.2 557.4,215.6 557.9,214.8 558.4,218.0 558.9,217.1 559.4,218.4 560.0,218.0 560.5,217.7 561.0,217.9 561.5,218.2 562.0,219.0 562.6,218.7 563.1,218.0 563.6,217.2 564.1,216.7 564.6,215.2 565.2,215.0 565.7,216.5 566.2,217.6 566.7,218.1 567.2,218.3 567.8,217.6 568.3,216.8 568.8,215.9 569.3,214.4 569.8,211.6 570.4,210.0 570.9,214.1 571.4,213.0 571.9,212.0 572.4,215.7 573.0,216.4 573.5,218.8"/>
<line x1="592.5" y1="59.3" x2="592.5" y2="220.5" stroke="#333" stroke-width="1"/>
<line x1="592.5" y1="220.5" x2="798.0" y2="220.5" stroke="#333" stroke-width="1"/>
<line x1="588.5" y1="220.5" x2="592.5" y2="220.5" stroke="#333" stroke-width="0.8"/>
<text transform="translate(587.7 223.3) scale(0.9 1)" font-size="8.5" text-anchor="end" fill="#161616" font-weight="normal" >0</text>
<line x1="590.5" y1="216.9" x2="592.5" y2="216.9" stroke="#333" stroke-width="0.8"/>
<line x1="590.5" y1="213.2" x2="592.5" y2="213.2" stroke="#333" stroke-width="0.8"/>
<line x1="590.5" y1="209.6" x2="592.5" y2="209.6" stroke="#333" stroke-width="0.8"/>
<line x1="590.5" y1="206.0" x2="592.5" y2="206.0" stroke="#333" stroke-width="0.8"/>
<line x1="588.5" y1="202.3" x2="592.5" y2="202.3" stroke="#333" stroke-width="0.8"/>
<text transform="translate(587.7 205.2) scale(0.9 1)" font-size="8.5" text-anchor="end" fill="#161616" font-weight="normal" >5</text>
<line x1="590.5" y1="198.7" x2="592.5" y2="198.7" stroke="#333" stroke-width="0.8"/>
<line x1="590.5" y1="195.1" x2="592.5" y2="195.1" stroke="#333" stroke-width="0.8"/>
<line x1="590.5" y1="191.5" x2="592.5" y2="191.5" stroke="#333" stroke-width="0.8"/>
<line x1="590.5" y1="187.8" x2="592.5" y2="187.8" stroke="#333" stroke-width="0.8"/>
<line x1="588.5" y1="184.2" x2="592.5" y2="184.2" stroke="#333" stroke-width="0.8"/>
<text transform="translate(587.7 187.0) scale(0.9 1)" font-size="8.5" text-anchor="end" fill="#161616" font-weight="normal" >10</text>
<line x1="590.5" y1="180.6" x2="592.5" y2="180.6" stroke="#333" stroke-width="0.8"/>
<line x1="590.5" y1="176.9" x2="592.5" y2="176.9" stroke="#333" stroke-width="0.8"/>
<line x1="590.5" y1="173.3" x2="592.5" y2="173.3" stroke="#333" stroke-width="0.8"/>
<line x1="590.5" y1="169.7" x2="592.5" y2="169.7" stroke="#333" stroke-width="0.8"/>
<line x1="588.5" y1="166.1" x2="592.5" y2="166.1" stroke="#333" stroke-width="0.8"/>
<text transform="translate(587.7 168.9) scale(0.9 1)" font-size="8.5" text-anchor="end" fill="#161616" font-weight="normal" >15</text>
<line x1="590.5" y1="162.4" x2="592.5" y2="162.4" stroke="#333" stroke-width="0.8"/>
<line x1="590.5" y1="158.8" x2="592.5" y2="158.8" stroke="#333" stroke-width="0.8"/>
<line x1="590.5" y1="155.2" x2="592.5" y2="155.2" stroke="#333" stroke-width="0.8"/>
<line x1="590.5" y1="151.5" x2="592.5" y2="151.5" stroke="#333" stroke-width="0.8"/>
<line x1="588.5" y1="147.9" x2="592.5" y2="147.9" stroke="#333" stroke-width="0.8"/>
<text transform="translate(587.7 150.7) scale(0.9 1)" font-size="8.5" text-anchor="end" fill="#161616" font-weight="normal" >20</text>
<line x1="590.5" y1="144.3" x2="592.5" y2="144.3" stroke="#333" stroke-width="0.8"/>
<line x1="590.5" y1="140.6" x2="592.5" y2="140.6" stroke="#333" stroke-width="0.8"/>
<line x1="590.5" y1="137.0" x2="592.5" y2="137.0" stroke="#333" stroke-width="0.8"/>
<line x1="590.5" y1="133.4" x2="592.5" y2="133.4" stroke="#333" stroke-width="0.8"/>
<line x1="588.5" y1="129.8" x2="592.5" y2="129.8" stroke="#333" stroke-width="0.8"/>
<text transform="translate(587.7 132.6) scale(0.9 1)" font-size="8.5" text-anchor="end" fill="#161616" font-weight="normal" >25</text>
<line x1="590.5" y1="126.1" x2="592.5" y2="126.1" stroke="#333" stroke-width="0.8"/>
<line x1="590.5" y1="122.5" x2="592.5" y2="122.5" stroke="#333" stroke-width="0.8"/>
<line x1="590.5" y1="118.9" x2="592.5" y2="118.9" stroke="#333" stroke-width="0.8"/>
<line x1="590.5" y1="115.2" x2="592.5" y2="115.2" stroke="#333" stroke-width="0.8"/>
<line x1="588.5" y1="111.6" x2="592.5" y2="111.6" stroke="#333" stroke-width="0.8"/>
<text transform="translate(587.7 114.4) scale(0.9 1)" font-size="8.5" text-anchor="end" fill="#161616" font-weight="normal" >30</text>
<line x1="590.5" y1="108.0" x2="592.5" y2="108.0" stroke="#333" stroke-width="0.8"/>
<line x1="590.5" y1="104.3" x2="592.5" y2="104.3" stroke="#333" stroke-width="0.8"/>
<line x1="590.5" y1="100.7" x2="592.5" y2="100.7" stroke="#333" stroke-width="0.8"/>
<line x1="590.5" y1="97.1" x2="592.5" y2="97.1" stroke="#333" stroke-width="0.8"/>
<line x1="588.5" y1="93.5" x2="592.5" y2="93.5" stroke="#333" stroke-width="0.8"/>
<text transform="translate(587.7 96.3) scale(0.9 1)" font-size="8.5" text-anchor="end" fill="#161616" font-weight="normal" >35</text>
<line x1="590.5" y1="89.8" x2="592.5" y2="89.8" stroke="#333" stroke-width="0.8"/>
<line x1="590.5" y1="86.2" x2="592.5" y2="86.2" stroke="#333" stroke-width="0.8"/>
<line x1="590.5" y1="82.6" x2="592.5" y2="82.6" stroke="#333" stroke-width="0.8"/>
<line x1="590.5" y1="78.9" x2="592.5" y2="78.9" stroke="#333" stroke-width="0.8"/>
<line x1="588.5" y1="75.3" x2="592.5" y2="75.3" stroke="#333" stroke-width="0.8"/>
<text transform="translate(587.7 78.1) scale(0.9 1)" font-size="8.5" text-anchor="end" fill="#161616" font-weight="normal" >40</text>
<line x1="590.5" y1="71.7" x2="592.5" y2="71.7" stroke="#333" stroke-width="0.8"/>
<line x1="590.5" y1="68.0" x2="592.5" y2="68.0" stroke="#333" stroke-width="0.8"/>
<line x1="590.5" y1="64.4" x2="592.5" y2="64.4" stroke="#333" stroke-width="0.8"/>
<line x1="590.5" y1="60.8" x2="592.5" y2="60.8" stroke="#333" stroke-width="0.8"/>
<line x1="592.5" y1="220.5" x2="592.5" y2="225.5" stroke="#333" stroke-width="0.8"/>
<text transform="translate(592.5 234.0) scale(0.9 1)" font-size="8.5" text-anchor="middle" fill="#161616" font-weight="normal" >460</text>
<line x1="599.1" y1="220.5" x2="599.1" y2="223.5" stroke="#333" stroke-width="0.8"/>
<line x1="605.7" y1="220.5" x2="605.7" y2="223.5" stroke="#333" stroke-width="0.8"/>
<line x1="612.3" y1="220.5" x2="612.3" y2="223.5" stroke="#333" stroke-width="0.8"/>
<line x1="618.9" y1="220.5" x2="618.9" y2="223.5" stroke="#333" stroke-width="0.8"/>
<line x1="625.5" y1="220.5" x2="625.5" y2="225.5" stroke="#333" stroke-width="0.8"/>
<text transform="translate(625.5 234.0) scale(0.9 1)" font-size="8.5" text-anchor="middle" fill="#161616" font-weight="normal" >465</text>
<line x1="632.1" y1="220.5" x2="632.1" y2="223.5" stroke="#333" stroke-width="0.8"/>
<line x1="638.7" y1="220.5" x2="638.7" y2="223.5" stroke="#333" stroke-width="0.8"/>
<line x1="645.3" y1="220.5" x2="645.3" y2="223.5" stroke="#333" stroke-width="0.8"/>
<line x1="651.9" y1="220.5" x2="651.9" y2="223.5" stroke="#333" stroke-width="0.8"/>
<line x1="658.5" y1="220.5" x2="658.5" y2="225.5" stroke="#333" stroke-width="0.8"/>
<text transform="translate(658.5 234.0) scale(0.9 1)" font-size="8.5" text-anchor="middle" fill="#161616" font-weight="normal" >470</text>
<line x1="665.1" y1="220.5" x2="665.1" y2="223.5" stroke="#333" stroke-width="0.8"/>
<line x1="671.7" y1="220.5" x2="671.7" y2="223.5" stroke="#333" stroke-width="0.8"/>
<line x1="678.3" y1="220.5" x2="678.3" y2="223.5" stroke="#333" stroke-width="0.8"/>
<line x1="684.9" y1="220.5" x2="684.9" y2="223.5" stroke="#333" stroke-width="0.8"/>
<line x1="691.5" y1="220.5" x2="691.5" y2="225.5" stroke="#333" stroke-width="0.8"/>
<text transform="translate(691.5 234.0) scale(0.9 1)" font-size="8.5" text-anchor="middle" fill="#161616" font-weight="normal" >475</text>
<line x1="698.1" y1="220.5" x2="698.1" y2="223.5" stroke="#333" stroke-width="0.8"/>
<line x1="704.7" y1="220.5" x2="704.7" y2="223.5" stroke="#333" stroke-width="0.8"/>
<line x1="711.3" y1="220.5" x2="711.3" y2="223.5" stroke="#333" stroke-width="0.8"/>
<line x1="717.9" y1="220.5" x2="717.9" y2="223.5" stroke="#333" stroke-width="0.8"/>
<line x1="724.5" y1="220.5" x2="724.5" y2="225.5" stroke="#333" stroke-width="0.8"/>
<text transform="translate(724.5 234.0) scale(0.9 1)" font-size="8.5" text-anchor="middle" fill="#161616" font-weight="normal" >480</text>
<line x1="731.1" y1="220.5" x2="731.1" y2="223.5" stroke="#333" stroke-width="0.8"/>
<line x1="737.7" y1="220.5" x2="737.7" y2="223.5" stroke="#333" stroke-width="0.8"/>
<line x1="744.3" y1="220.5" x2="744.3" y2="223.5" stroke="#333" stroke-width="0.8"/>
<line x1="750.9" y1="220.5" x2="750.9" y2="223.5" stroke="#333" stroke-width="0.8"/>
<line x1="757.5" y1="220.5" x2="757.5" y2="225.5" stroke="#333" stroke-width="0.8"/>
<text transform="translate(757.5 234.0) scale(0.9 1)" font-size="8.5" text-anchor="middle" fill="#161616" font-weight="normal" >485</text>
<line x1="764.1" y1="220.5" x2="764.1" y2="223.5" stroke="#333" stroke-width="0.8"/>
<line x1="770.7" y1="220.5" x2="770.7" y2="223.5" stroke="#333" stroke-width="0.8"/>
<line x1="777.3" y1="220.5" x2="777.3" y2="223.5" stroke="#333" stroke-width="0.8"/>
<line x1="783.9" y1="220.5" x2="783.9" y2="223.5" stroke="#333" stroke-width="0.8"/>
<line x1="790.5" y1="220.5" x2="790.5" y2="225.5" stroke="#333" stroke-width="0.8"/>
<text transform="translate(790.5 234.0) scale(0.9 1)" font-size="8.5" text-anchor="middle" fill="#161616" font-weight="normal" >490</text>
<line x1="797.1" y1="220.5" x2="797.1" y2="223.5" stroke="#333" stroke-width="0.8"/>
<polyline fill="none" stroke="#111" stroke-width="1.0" stroke-linejoin="round" points="592.2,217.0 592.7,219.2 593.2,219.5 593.8,219.8 594.3,218.9 594.8,218.2 595.3,219.5 595.9,219.0 596.4,218.6 596.9,218.9 597.5,219.3 598.0,219.6 598.5,218.8 599.0,219.2 599.6,218.3 600.1,212.9 600.6,213.0 601.1,213.0 601.7,214.1 602.2,216.9 602.7,213.8 603.3,211.7 603.8,211.5 604.3,215.5 604.8,216.5 605.4,216.9 605.9,215.7 606.4,215.5 607.0,214.9 607.5,215.2 608.0,216.6 608.5,217.8 609.1,214.8 609.6,218.6 610.1,216.8 610.6,213.8 611.2,211.3 611.7,210.5 612.2,212.1 612.8,211.4 613.3,208.4 613.8,201.4 614.3,197.7 614.9,198.8 615.4,204.9 615.9,211.5 616.5,216.2 617.0,215.5 617.5,214.3 618.0,214.3 618.6,212.0 619.1,216.1 619.6,215.6 620.2,219.1 620.7,217.6 621.2,215.6 621.7,214.6 622.3,214.1 622.8,213.6 623.3,217.0 623.9,219.2 624.4,218.4 624.9,219.7 625.4,218.5 626.0,218.2 626.5,216.1 627.0,215.7 627.5,217.5 628.1,218.5 628.6,219.3 629.1,218.1 629.7,219.5 630.2,218.5 630.7,220.0 631.2,219.0 631.8,218.6 632.3,219.7 632.8,219.2 633.4,217.0 633.9,219.8 634.4,219.6 634.9,219.6 635.5,219.1 636.0,218.1 636.5,219.0 637.0,218.1 637.6,216.6 638.1,215.2 638.6,216.5 639.2,218.1 639.7,219.4 640.2,217.4 640.7,218.8 641.3,219.0 641.8,219.4 642.3,219.2 642.9,219.4 643.4,217.4 643.9,218.1 644.4,218.8 645.0,218.2 645.5,218.4 646.0,216.6 646.6,214.1 647.1,211.4 647.6,211.4 648.1,210.8 648.7,213.4 649.2,214.4 649.7,217.0 650.2,214.8 650.8,207.9 651.3,197.5 651.8,187.1 652.4,183.3 652.9,187.6 653.4,197.5 653.9,208.1 654.5,213.9 655.0,214.7 655.5,211.6 656.1,211.5 656.6,213.6 657.1,216.0 657.6,211.2 658.2,208.3 658.7,211.5 659.2,214.7 659.8,217.6 660.3,218.7 660.8,218.5 661.3,217.1 661.9,215.2 662.4,214.1 662.9,214.9 663.5,217.2 664.0,218.5 664.5,219.1 665.0,218.8 665.6,216.7 666.1,213.1 666.6,213.1 667.1,215.7 667.7,218.9 668.2,218.9 668.7,219.7 669.3,219.0 669.8,219.2 670.3,218.4 670.8,219.8 671.4,219.7 671.9,219.7 672.4,219.3 673.0,219.8 673.5,218.5 674.0,219.0 674.5,216.4 675.1,219.8 675.6,216.2 676.1,218.3 676.6,219.5 677.2,216.9 677.7,215.1 678.2,211.1 678.8,212.7 679.3,216.0 679.8,219.2 680.3,214.1 680.9,210.4 681.4,206.4 681.9,202.2 682.5,193.7 683.0,182.3 683.5,171.1 684.0,158.9 684.6,145.5 685.1,132.4 685.6,121.8 686.2,112.2 686.7,108.0 687.2,120.9 687.7,134.9 688.3,151.1 688.8,166.2 689.3,175.8 689.9,184.4 690.4,191.1 690.9,193.7 691.4,194.9 692.0,192.0 692.5,189.0 693.0,186.6 693.5,187.7 694.1,195.7 694.6,203.1 695.1,208.3 695.7,212.6 696.2,211.7 696.7,210.2 697.2,210.2 697.8,209.4 698.3,210.6 698.8,211.3 699.4,214.2 699.9,218.1 700.4,219.8 700.9,219.1 701.5,219.4 702.0,219.0 702.5,218.4 703.0,218.6 703.6,219.9 704.1,218.7 704.6,218.8 705.2,218.0 705.7,215.2 706.2,215.6 706.7,217.6 707.3,217.3 707.8,217.8 708.3,218.1 708.9,219.0 709.4,219.4 709.9,218.5 710.4,218.9 711.0,219.1 711.5,219.9 712.0,218.0 712.6,217.2 713.1,215.4 713.6,214.0 714.1,216.9 714.7,217.5 715.2,217.4 715.7,219.9 716.2,219.7 716.8,218.8 717.3,218.1 717.8,219.8 718.4,218.5 718.9,219.1 719.4,218.9 719.9,219.3 720.5,216.5 721.0,212.5 721.5,214.4 722.1,216.1 722.6,219.1 723.1,217.8 723.6,219.0 724.2,219.7 724.7,219.1 725.2,219.0 725.8,219.9 726.3,218.3 726.8,219.2 727.3,218.5 727.9,219.2 728.4,219.7 728.9,219.2 729.5,215.8 730.0,213.1 730.5,214.9 731.0,216.0 731.6,218.5 732.1,219.6 732.6,217.0 733.1,217.6 733.7,219.2 734.2,217.9 734.7,216.5 735.3,215.6 735.8,217.1 736.3,217.7 736.8,218.5 737.4,219.4 737.9,218.5 738.4,218.1 739.0,215.8 739.5,215.4 740.0,213.2 740.5,213.4 741.1,215.3 741.6,216.4 742.1,215.5 742.6,213.1 743.2,211.8 743.7,211.6 744.2,211.7 744.8,216.5 745.3,217.9 745.8,219.2 746.3,219.6 746.9,219.9 747.4,217.8 747.9,218.5 748.5,219.4 749.0,218.6 749.5,218.7 750.0,219.7 750.6,218.8 751.1,216.1 751.6,217.6 752.2,215.3 752.7,214.2 753.2,214.1 753.7,214.2 754.3,213.1 754.8,216.1 755.3,215.2 755.9,218.1 756.4,213.2 756.9,206.8 757.4,194.3 758.0,178.8 758.5,167.8 759.0,166.0 759.5,175.8 760.1,190.7 760.6,203.8 761.1,212.0 761.7,209.7 762.2,208.2 762.7,210.8 763.2,214.0 763.8,210.8 764.3,206.2 764.8,202.0 765.4,201.9 765.9,206.4 766.4,212.4 766.9,216.0 767.5,216.4 768.0,212.2 768.5,211.9 769.0,210.3 769.6,213.4 770.1,215.7 770.6,217.9 771.2,217.4 771.7,214.3 772.2,212.9 772.7,211.8 773.3,210.8 773.8,216.1 774.3,218.1 774.9,216.9 775.4,219.6 775.9,218.8 776.4,218.1 777.0,217.5 777.5,217.6 778.0,212.9 778.6,206.1 779.1,199.4 779.6,197.7 780.1,202.0 780.7,209.8 781.2,215.0 781.7,215.9 782.2,215.3 782.8,212.2 783.3,211.7 783.8,211.9 784.4,215.7 784.9,217.7 785.4,218.3 785.9,216.7 786.5,215.1 787.0,214.8 787.5,213.6 788.1,216.4 788.6,216.9 789.1,219.0 789.6,218.5 790.2,219.6 790.7,217.5 791.2,218.3 791.8,216.6 792.3,213.4 792.8,213.9 793.3,217.7 793.9,219.0 794.4,219.7 794.9,219.5 795.5,218.8 796.0,217.6 796.5,215.3 797.0,214.9 797.6,215.5 798.1,218.3 798.6,219.2 799.1,219.1"/>
<line x1="369.6" y1="302.6" x2="369.6" y2="491.5" stroke="#333" stroke-width="1"/>
<line x1="369.6" y1="491.5" x2="557.0" y2="491.5" stroke="#333" stroke-width="1"/>
<line x1="366.4" y1="491.5" x2="369.6" y2="491.5" stroke="#333" stroke-width="0.8"/>
<text x="364.2" y="492.8" font-size="3.9" text-anchor="end" fill="#161616" font-weight="normal" letter-spacing="0.35">0 0</text>
<line x1="367.6" y1="489.6" x2="369.6" y2="489.6" stroke="#333" stroke-width="0.8"/>
<line x1="367.6" y1="487.6" x2="369.6" y2="487.6" stroke="#333" stroke-width="0.8"/>
<line x1="367.6" y1="485.7" x2="369.6" y2="485.7" stroke="#333" stroke-width="0.8"/>
<line x1="367.6" y1="483.7" x2="369.6" y2="483.7" stroke="#333" stroke-width="0.8"/>
<line x1="366.4" y1="481.8" x2="369.6" y2="481.8" stroke="#333" stroke-width="0.8"/>
<text x="364.2" y="483.1" font-size="3.9" text-anchor="end" fill="#161616" font-weight="normal" letter-spacing="0.35">0 5</text>
<line x1="367.6" y1="479.9" x2="369.6" y2="479.9" stroke="#333" stroke-width="0.8"/>
<line x1="367.6" y1="477.9" x2="369.6" y2="477.9" stroke="#333" stroke-width="0.8"/>
<line x1="367.6" y1="476.0" x2="369.6" y2="476.0" stroke="#333" stroke-width="0.8"/>
<line x1="367.6" y1="474.0" x2="369.6" y2="474.0" stroke="#333" stroke-width="0.8"/>
<line x1="366.4" y1="472.1" x2="369.6" y2="472.1" stroke="#333" stroke-width="0.8"/>
<text x="364.2" y="473.4" font-size="3.9" text-anchor="end" fill="#161616" font-weight="normal" letter-spacing="0.35">1 0</text>
<line x1="367.6" y1="470.2" x2="369.6" y2="470.2" stroke="#333" stroke-width="0.8"/>
<line x1="367.6" y1="468.2" x2="369.6" y2="468.2" stroke="#333" stroke-width="0.8"/>
<line x1="367.6" y1="466.3" x2="369.6" y2="466.3" stroke="#333" stroke-width="0.8"/>
<line x1="367.6" y1="464.3" x2="369.6" y2="464.3" stroke="#333" stroke-width="0.8"/>
<line x1="366.4" y1="462.4" x2="369.6" y2="462.4" stroke="#333" stroke-width="0.8"/>
<text x="364.2" y="463.7" font-size="3.9" text-anchor="end" fill="#161616" font-weight="normal" letter-spacing="0.35">1 5</text>
<line x1="367.6" y1="460.5" x2="369.6" y2="460.5" stroke="#333" stroke-width="0.8"/>
<line x1="367.6" y1="458.5" x2="369.6" y2="458.5" stroke="#333" stroke-width="0.8"/>
<line x1="367.6" y1="456.6" x2="369.6" y2="456.6" stroke="#333" stroke-width="0.8"/>
<line x1="367.6" y1="454.6" x2="369.6" y2="454.6" stroke="#333" stroke-width="0.8"/>
<line x1="366.4" y1="452.7" x2="369.6" y2="452.7" stroke="#333" stroke-width="0.8"/>
<text x="364.2" y="454.0" font-size="3.9" text-anchor="end" fill="#161616" font-weight="normal" letter-spacing="0.35">2 0</text>
<line x1="367.6" y1="450.8" x2="369.6" y2="450.8" stroke="#333" stroke-width="0.8"/>
<line x1="367.6" y1="448.8" x2="369.6" y2="448.8" stroke="#333" stroke-width="0.8"/>
<line x1="367.6" y1="446.9" x2="369.6" y2="446.9" stroke="#333" stroke-width="0.8"/>
<line x1="367.6" y1="444.9" x2="369.6" y2="444.9" stroke="#333" stroke-width="0.8"/>
<line x1="366.4" y1="443.0" x2="369.6" y2="443.0" stroke="#333" stroke-width="0.8"/>
<text x="364.2" y="444.3" font-size="3.9" text-anchor="end" fill="#161616" font-weight="normal" letter-spacing="0.35">2 5</text>
<line x1="367.6" y1="441.1" x2="369.6" y2="441.1" stroke="#333" stroke-width="0.8"/>
<line x1="367.6" y1="439.1" x2="369.6" y2="439.1" stroke="#333" stroke-width="0.8"/>
<line x1="367.6" y1="437.2" x2="369.6" y2="437.2" stroke="#333" stroke-width="0.8"/>
<line x1="367.6" y1="435.2" x2="369.6" y2="435.2" stroke="#333" stroke-width="0.8"/>
<line x1="366.4" y1="433.3" x2="369.6" y2="433.3" stroke="#333" stroke-width="0.8"/>
<text x="364.2" y="434.6" font-size="3.9" text-anchor="end" fill="#161616" font-weight="normal" letter-spacing="0.35">3 0</text>
<line x1="367.6" y1="431.4" x2="369.6" y2="431.4" stroke="#333" stroke-width="0.8"/>
<line x1="367.6" y1="429.4" x2="369.6" y2="429.4" stroke="#333" stroke-width="0.8"/>
<line x1="367.6" y1="427.5" x2="369.6" y2="427.5" stroke="#333" stroke-width="0.8"/>
<line x1="367.6" y1="425.5" x2="369.6" y2="425.5" stroke="#333" stroke-width="0.8"/>
<line x1="366.4" y1="423.6" x2="369.6" y2="423.6" stroke="#333" stroke-width="0.8"/>
<text x="364.2" y="424.9" font-size="3.9" text-anchor="end" fill="#161616" font-weight="normal" letter-spacing="0.35">3 5</text>
<line x1="367.6" y1="421.7" x2="369.6" y2="421.7" stroke="#333" stroke-width="0.8"/>
<line x1="367.6" y1="419.7" x2="369.6" y2="419.7" stroke="#333" stroke-width="0.8"/>
<line x1="367.6" y1="417.8" x2="369.6" y2="417.8" stroke="#333" stroke-width="0.8"/>
<line x1="367.6" y1="415.8" x2="369.6" y2="415.8" stroke="#333" stroke-width="0.8"/>
<line x1="366.4" y1="413.9" x2="369.6" y2="413.9" stroke="#333" stroke-width="0.8"/>
<text x="364.2" y="415.2" font-size="3.9" text-anchor="end" fill="#161616" font-weight="normal" letter-spacing="0.35">4 0</text>
<line x1="367.6" y1="412.0" x2="369.6" y2="412.0" stroke="#333" stroke-width="0.8"/>
<line x1="367.6" y1="410.0" x2="369.6" y2="410.0" stroke="#333" stroke-width="0.8"/>
<line x1="367.6" y1="408.1" x2="369.6" y2="408.1" stroke="#333" stroke-width="0.8"/>
<line x1="367.6" y1="406.1" x2="369.6" y2="406.1" stroke="#333" stroke-width="0.8"/>
<line x1="366.4" y1="404.2" x2="369.6" y2="404.2" stroke="#333" stroke-width="0.8"/>
<text x="364.2" y="405.5" font-size="3.9" text-anchor="end" fill="#161616" font-weight="normal" letter-spacing="0.35">4 5</text>
<line x1="367.6" y1="402.3" x2="369.6" y2="402.3" stroke="#333" stroke-width="0.8"/>
<line x1="367.6" y1="400.3" x2="369.6" y2="400.3" stroke="#333" stroke-width="0.8"/>
<line x1="367.6" y1="398.4" x2="369.6" y2="398.4" stroke="#333" stroke-width="0.8"/>
<line x1="367.6" y1="396.4" x2="369.6" y2="396.4" stroke="#333" stroke-width="0.8"/>
<line x1="366.4" y1="394.5" x2="369.6" y2="394.5" stroke="#333" stroke-width="0.8"/>
<text x="364.2" y="395.8" font-size="3.9" text-anchor="end" fill="#161616" font-weight="normal" letter-spacing="0.35">5 0</text>
<line x1="367.6" y1="392.6" x2="369.6" y2="392.6" stroke="#333" stroke-width="0.8"/>
<line x1="367.6" y1="390.6" x2="369.6" y2="390.6" stroke="#333" stroke-width="0.8"/>
<line x1="367.6" y1="388.7" x2="369.6" y2="388.7" stroke="#333" stroke-width="0.8"/>
<line x1="367.6" y1="386.7" x2="369.6" y2="386.7" stroke="#333" stroke-width="0.8"/>
<line x1="366.4" y1="384.8" x2="369.6" y2="384.8" stroke="#333" stroke-width="0.8"/>
<text x="364.2" y="386.1" font-size="3.9" text-anchor="end" fill="#161616" font-weight="normal" letter-spacing="0.35">5 5</text>
<line x1="367.6" y1="382.9" x2="369.6" y2="382.9" stroke="#333" stroke-width="0.8"/>
<line x1="367.6" y1="380.9" x2="369.6" y2="380.9" stroke="#333" stroke-width="0.8"/>
<line x1="367.6" y1="379.0" x2="369.6" y2="379.0" stroke="#333" stroke-width="0.8"/>
<line x1="367.6" y1="377.0" x2="369.6" y2="377.0" stroke="#333" stroke-width="0.8"/>
<line x1="366.4" y1="375.1" x2="369.6" y2="375.1" stroke="#333" stroke-width="0.8"/>
<text x="364.2" y="376.4" font-size="3.9" text-anchor="end" fill="#161616" font-weight="normal" letter-spacing="0.35">6 0</text>
<line x1="367.6" y1="373.2" x2="369.6" y2="373.2" stroke="#333" stroke-width="0.8"/>
<line x1="367.6" y1="371.2" x2="369.6" y2="371.2" stroke="#333" stroke-width="0.8"/>
<line x1="367.6" y1="369.3" x2="369.6" y2="369.3" stroke="#333" stroke-width="0.8"/>
<line x1="367.6" y1="367.3" x2="369.6" y2="367.3" stroke="#333" stroke-width="0.8"/>
<line x1="366.4" y1="365.4" x2="369.6" y2="365.4" stroke="#333" stroke-width="0.8"/>
<text x="364.2" y="366.7" font-size="3.9" text-anchor="end" fill="#161616" font-weight="normal" letter-spacing="0.35">6 5</text>
<line x1="367.6" y1="363.5" x2="369.6" y2="363.5" stroke="#333" stroke-width="0.8"/>
<line x1="367.6" y1="361.5" x2="369.6" y2="361.5" stroke="#333" stroke-width="0.8"/>
<line x1="367.6" y1="359.6" x2="369.6" y2="359.6" stroke="#333" stroke-width="0.8"/>
<line x1="367.6" y1="357.6" x2="369.6" y2="357.6" stroke="#333" stroke-width="0.8"/>
<line x1="366.4" y1="355.7" x2="369.6" y2="355.7" stroke="#333" stroke-width="0.8"/>
<text x="364.2" y="357.0" font-size="3.9" text-anchor="end" fill="#161616" font-weight="normal" letter-spacing="0.35">7 0</text>
<line x1="367.6" y1="353.8" x2="369.6" y2="353.8" stroke="#333" stroke-width="0.8"/>
<line x1="367.6" y1="351.8" x2="369.6" y2="351.8" stroke="#333" stroke-width="0.8"/>
<line x1="367.6" y1="349.9" x2="369.6" y2="349.9" stroke="#333" stroke-width="0.8"/>
<line x1="367.6" y1="347.9" x2="369.6" y2="347.9" stroke="#333" stroke-width="0.8"/>
<line x1="366.4" y1="346.0" x2="369.6" y2="346.0" stroke="#333" stroke-width="0.8"/>
<text x="364.2" y="347.3" font-size="3.9" text-anchor="end" fill="#161616" font-weight="normal" letter-spacing="0.35">7 5</text>
<line x1="367.6" y1="344.1" x2="369.6" y2="344.1" stroke="#333" stroke-width="0.8"/>
<line x1="367.6" y1="342.1" x2="369.6" y2="342.1" stroke="#333" stroke-width="0.8"/>
<line x1="367.6" y1="340.2" x2="369.6" y2="340.2" stroke="#333" stroke-width="0.8"/>
<line x1="367.6" y1="338.2" x2="369.6" y2="338.2" stroke="#333" stroke-width="0.8"/>
<line x1="366.4" y1="336.3" x2="369.6" y2="336.3" stroke="#333" stroke-width="0.8"/>
<text x="364.2" y="337.6" font-size="3.9" text-anchor="end" fill="#161616" font-weight="normal" letter-spacing="0.35">8 0</text>
<line x1="367.6" y1="334.4" x2="369.6" y2="334.4" stroke="#333" stroke-width="0.8"/>
<line x1="367.6" y1="332.4" x2="369.6" y2="332.4" stroke="#333" stroke-width="0.8"/>
<line x1="367.6" y1="330.5" x2="369.6" y2="330.5" stroke="#333" stroke-width="0.8"/>
<line x1="367.6" y1="328.5" x2="369.6" y2="328.5" stroke="#333" stroke-width="0.8"/>
<line x1="366.4" y1="326.6" x2="369.6" y2="326.6" stroke="#333" stroke-width="0.8"/>
<text x="364.2" y="327.9" font-size="3.9" text-anchor="end" fill="#161616" font-weight="normal" letter-spacing="0.35">8 5</text>
<line x1="367.6" y1="324.7" x2="369.6" y2="324.7" stroke="#333" stroke-width="0.8"/>
<line x1="367.6" y1="322.7" x2="369.6" y2="322.7" stroke="#333" stroke-width="0.8"/>
<line x1="367.6" y1="320.8" x2="369.6" y2="320.8" stroke="#333" stroke-width="0.8"/>
<line x1="367.6" y1="318.8" x2="369.6" y2="318.8" stroke="#333" stroke-width="0.8"/>
<line x1="366.4" y1="316.9" x2="369.6" y2="316.9" stroke="#333" stroke-width="0.8"/>
<text x="364.2" y="318.2" font-size="3.9" text-anchor="end" fill="#161616" font-weight="normal" letter-spacing="0.35">9 0</text>
<line x1="367.6" y1="315.0" x2="369.6" y2="315.0" stroke="#333" stroke-width="0.8"/>
<line x1="367.6" y1="313.0" x2="369.6" y2="313.0" stroke="#333" stroke-width="0.8"/>
<line x1="367.6" y1="311.1" x2="369.6" y2="311.1" stroke="#333" stroke-width="0.8"/>
<line x1="367.6" y1="309.1" x2="369.6" y2="309.1" stroke="#333" stroke-width="0.8"/>
<line x1="366.4" y1="307.2" x2="369.6" y2="307.2" stroke="#333" stroke-width="0.8"/>
<text x="364.2" y="308.5" font-size="3.9" text-anchor="end" fill="#161616" font-weight="normal" letter-spacing="0.35">9 5</text>
<line x1="367.6" y1="305.3" x2="369.6" y2="305.3" stroke="#333" stroke-width="0.8"/>
<line x1="367.6" y1="303.3" x2="369.6" y2="303.3" stroke="#333" stroke-width="0.8"/>
<line x1="369.0" y1="491.5" x2="369.0" y2="495.0" stroke="#333" stroke-width="0.7"/>
<text x="369.0" y="499.0" font-size="4.2" text-anchor="middle" fill="#161616" font-weight="normal" letter-spacing="1.1">460</text>
<line x1="375.0" y1="491.5" x2="375.0" y2="493.5" stroke="#333" stroke-width="0.7"/>
<line x1="381.0" y1="491.5" x2="381.0" y2="493.5" stroke="#333" stroke-width="0.7"/>
<line x1="386.9" y1="491.5" x2="386.9" y2="493.5" stroke="#333" stroke-width="0.7"/>
<line x1="392.9" y1="491.5" x2="392.9" y2="493.5" stroke="#333" stroke-width="0.7"/>
<line x1="398.9" y1="491.5" x2="398.9" y2="495.0" stroke="#333" stroke-width="0.7"/>
<text x="398.9" y="499.0" font-size="4.2" text-anchor="middle" fill="#161616" font-weight="normal" letter-spacing="1.1">465</text>
<line x1="404.9" y1="491.5" x2="404.9" y2="493.5" stroke="#333" stroke-width="0.7"/>
<line x1="410.9" y1="491.5" x2="410.9" y2="493.5" stroke="#333" stroke-width="0.7"/>
<line x1="416.8" y1="491.5" x2="416.8" y2="493.5" stroke="#333" stroke-width="0.7"/>
<line x1="422.8" y1="491.5" x2="422.8" y2="493.5" stroke="#333" stroke-width="0.7"/>
<line x1="428.8" y1="491.5" x2="428.8" y2="495.0" stroke="#333" stroke-width="0.7"/>
<text x="428.8" y="499.0" font-size="4.2" text-anchor="middle" fill="#161616" font-weight="normal" letter-spacing="1.1">470</text>
<line x1="434.8" y1="491.5" x2="434.8" y2="493.5" stroke="#333" stroke-width="0.7"/>
<line x1="440.8" y1="491.5" x2="440.8" y2="493.5" stroke="#333" stroke-width="0.7"/>
<line x1="446.7" y1="491.5" x2="446.7" y2="493.5" stroke="#333" stroke-width="0.7"/>
<line x1="452.7" y1="491.5" x2="452.7" y2="493.5" stroke="#333" stroke-width="0.7"/>
<line x1="458.7" y1="491.5" x2="458.7" y2="495.0" stroke="#333" stroke-width="0.7"/>
<text x="458.7" y="499.0" font-size="4.2" text-anchor="middle" fill="#161616" font-weight="normal" letter-spacing="1.1">475</text>
<line x1="464.7" y1="491.5" x2="464.7" y2="493.5" stroke="#333" stroke-width="0.7"/>
<line x1="470.7" y1="491.5" x2="470.7" y2="493.5" stroke="#333" stroke-width="0.7"/>
<line x1="476.6" y1="491.5" x2="476.6" y2="493.5" stroke="#333" stroke-width="0.7"/>
<line x1="482.6" y1="491.5" x2="482.6" y2="493.5" stroke="#333" stroke-width="0.7"/>
<line x1="488.6" y1="491.5" x2="488.6" y2="495.0" stroke="#333" stroke-width="0.7"/>
<text x="488.6" y="499.0" font-size="4.2" text-anchor="middle" fill="#161616" font-weight="normal" letter-spacing="1.1">480</text>
<line x1="494.6" y1="491.5" x2="494.6" y2="493.5" stroke="#333" stroke-width="0.7"/>
<line x1="500.6" y1="491.5" x2="500.6" y2="493.5" stroke="#333" stroke-width="0.7"/>
<line x1="506.5" y1="491.5" x2="506.5" y2="493.5" stroke="#333" stroke-width="0.7"/>
<line x1="512.5" y1="491.5" x2="512.5" y2="493.5" stroke="#333" stroke-width="0.7"/>
<line x1="518.5" y1="491.5" x2="518.5" y2="495.0" stroke="#333" stroke-width="0.7"/>
<text x="518.5" y="499.0" font-size="4.2" text-anchor="middle" fill="#161616" font-weight="normal" letter-spacing="1.1">485</text>
<line x1="524.5" y1="491.5" x2="524.5" y2="493.5" stroke="#333" stroke-width="0.7"/>
<line x1="530.5" y1="491.5" x2="530.5" y2="493.5" stroke="#333" stroke-width="0.7"/>
<line x1="536.4" y1="491.5" x2="536.4" y2="493.5" stroke="#333" stroke-width="0.7"/>
<line x1="542.4" y1="491.5" x2="542.4" y2="493.5" stroke="#333" stroke-width="0.7"/>
<line x1="548.4" y1="491.5" x2="548.4" y2="495.0" stroke="#333" stroke-width="0.7"/>
<text x="548.4" y="499.0" font-size="4.2" text-anchor="middle" fill="#161616" font-weight="normal" letter-spacing="1.1">490</text>
<line x1="554.4" y1="491.5" x2="554.4" y2="493.5" stroke="#333" stroke-width="0.7"/>
<polyline fill="none" stroke="#111" stroke-width="1.0" stroke-linejoin="round" points="369.0,490.2 369.5,486.9 370.0,485.3 370.4,485.2 370.9,488.3 371.4,490.0 371.9,488.3 372.3,490.8 372.8,490.9 373.3,489.9 373.8,488.9 374.3,489.1 374.7,486.6 375.2,486.1 375.7,488.6 376.2,489.9 376.7,489.1 377.1,488.9 377.6,488.6 378.1,489.5 378.6,487.2 379.0,484.9 379.5,486.0 380.0,487.0 380.5,490.4 381.0,489.9 381.4,487.1 381.9,484.5 382.4,485.1 382.9,485.4 383.4,489.5 383.8,487.9 384.3,489.1 384.8,489.5 385.3,488.0 385.7,489.5 386.2,488.3 386.7,482.4 387.2,469.0 387.7,452.3 388.1,444.0 388.6,428.0 389.1,457.1 389.6,454.1 390.0,450.3 390.5,460.7 391.0,464.6 391.5,461.5 392.0,465.9 392.4,475.2 392.9,473.5 393.4,470.8 393.9,471.7 394.4,474.8 394.8,480.2 395.3,476.1 395.8,475.1 396.3,478.3 396.7,482.6 397.2,482.9 397.7,481.5 398.2,480.1 398.7,480.5 399.1,482.2 399.6,484.4 400.1,485.8 400.6,485.6 401.1,486.2 401.5,488.2 402.0,489.4 402.5,490.3 403.0,490.6 403.4,490.3 403.9,488.4 404.4,489.5 404.9,487.9 405.4,485.8 405.8,484.2 406.3,484.2 406.8,484.9 407.3,485.4 407.8,487.2 408.2,485.7 408.7,490.1 409.2,488.3 409.7,485.0 410.1,483.1 410.6,484.0 411.1,486.6 411.6,488.2 412.1,490.1 412.5,490.4 413.0,488.4 413.5,490.3 414.0,489.5 414.4,486.8 414.9,486.2 415.4,483.0 415.9,482.2 416.4,486.8 416.8,488.8 417.3,489.4 417.8,488.9 418.3,488.7 418.8,485.3 419.2,484.6 419.7,484.8 420.2,488.5 420.7,490.6 421.1,488.8 421.6,486.1 422.1,483.3 422.6,478.2 423.1,474.6 423.5,474.8 424.0,479.3 424.5,482.9 425.0,488.2 425.5,489.9 425.9,488.1 426.4,484.5 426.9,482.3 427.4,483.6 427.8,485.9 428.3,489.0 428.8,488.5 429.3,490.5 429.8,490.7 430.2,488.4 430.7,484.4 431.2,483.4 431.7,480.0 432.1,481.3 432.6,484.9 433.1,488.2 433.6,489.6 434.1,489.7 434.5,489.1 435.0,487.9 435.5,482.7 436.0,481.3 436.5,483.6 436.9,486.3 437.4,489.5 437.9,490.6 438.4,490.0 438.8,490.2 439.3,488.6 439.8,486.6 440.3,482.1 440.8,479.8 441.2,478.4 441.7,480.5 442.2,483.4 442.7,487.2 443.2,488.6 443.6,486.7 444.1,483.2 444.6,482.8 445.1,485.5 445.5,488.8 446.0,489.9 446.5,490.6 447.0,488.7 447.5,485.9 447.9,485.0 448.4,485.9 448.9,487.0 449.4,490.2 449.8,490.0 450.3,490.1 450.8,488.3 451.3,487.8 451.8,483.6 452.2,480.6 452.7,478.7 453.2,480.7 453.7,483.7 454.2,487.4 454.6,489.0 455.1,489.0 455.6,487.5 456.1,484.9 456.5,485.2 457.0,484.9 457.5,490.1 458.0,488.0 458.5,488.3 458.9,488.0 459.4,489.7 459.9,490.1 460.4,490.6 460.9,490.9 461.3,488.4 461.8,490.1 462.3,489.6 462.8,490.6 463.2,489.3 463.7,488.3 464.2,483.7 464.7,481.4 465.2,483.6 465.6,488.3 466.1,490.1 466.6,489.2 467.1,489.8 467.6,488.4 468.0,489.4 468.5,488.2 469.0,486.4 469.5,483.9 469.9,487.3 470.4,489.1 470.9,489.7 471.4,490.1 471.9,489.6 472.3,488.2 472.8,489.3 473.3,490.1 473.8,490.2 474.2,491.0 474.7,488.3 475.2,488.6 475.7,490.6 476.2,490.0 476.6,488.6 477.1,484.4 477.6,484.0 478.1,483.4 478.6,484.8 479.0,487.1 479.5,489.4 480.0,490.9 480.5,490.8 480.9,489.1 481.4,489.0 481.9,490.0 482.4,490.7 482.9,490.8 483.3,489.3 483.8,489.4 484.3,489.2 484.8,488.0 485.3,485.8 485.7,484.6 486.2,486.6 486.7,488.7 487.2,490.1 487.6,488.3 488.1,490.6 488.6,489.6 489.1,490.1 489.6,490.2 490.0,488.3 490.5,485.6 491.0,483.6 491.5,485.7 491.9,488.7 492.4,490.2 492.9,489.8 493.4,489.7 493.9,489.1 494.3,487.8 494.8,483.2 495.3,482.6 495.8,485.9 496.3,488.2 496.7,489.4 497.2,490.7 497.7,489.7 498.2,490.4 498.6,489.2 499.1,489.4 499.6,488.6 500.1,484.0 500.6,484.2 501.0,484.2 501.5,488.1 502.0,489.6 502.5,490.7 503.0,489.0 503.4,490.5 503.9,489.2 504.4,488.0 504.9,482.2 505.3,481.9 505.8,483.4 506.3,488.1 506.8,488.6 507.3,489.5 507.7,490.8 508.2,488.9 508.7,486.7 509.2,483.6 509.6,482.9 510.1,484.5 510.6,489.1 511.1,488.8 511.6,490.8 512.0,489.3 512.5,489.5 513.0,489.8 513.5,490.1 514.0,490.5 514.4,489.8 514.9,488.1 515.4,485.4 515.9,481.2 516.3,473.8 516.8,463.4 517.3,449.4 517.8,434.8 518.3,419.5 518.7,407.8 519.2,401.9 519.7,353.7 520.2,316.8 520.7,374.4 521.1,438.8 521.6,453.6 522.1,466.4 522.6,465.6 523.0,468.7 523.5,472.3 524.0,462.0 524.5,450.4 525.0,443.1 525.4,440.9 525.9,444.3 526.4,453.6 526.9,464.7 527.4,474.5 527.8,482.2 528.3,484.9 528.8,488.5 529.3,482.5 529.7,477.6 530.2,475.2 530.7,479.0 531.2,484.2 531.7,487.8 532.1,489.4 532.6,486.3 533.1,483.5 533.6,482.4 534.0,484.9 534.5,488.4 535.0,488.6 535.5,490.2 536.0,489.5 536.4,489.0 536.9,490.3 537.4,488.2 537.9,485.7 538.4,483.4 538.8,486.2 539.3,488.4 539.8,490.0 540.3,489.0 540.7,490.2 541.2,490.6 541.7,490.0 542.2,490.4 542.7,489.3 543.1,490.6 543.6,490.1 544.1,489.4 544.6,486.4 545.1,487.2 545.5,485.2 546.0,486.4 546.5,488.9 547.0,489.9 547.4,490.4 547.9,490.9 548.4,490.7 548.9,489.2 549.4,489.0 549.8,486.3 550.3,485.1 550.8,487.0 551.3,487.9 551.7,488.2 552.2,487.7 552.7,489.1 553.2,490.4 553.7,487.0 554.1,486.6 554.6,483.4 555.1,481.8 555.6,483.4"/>
<line x1="593.2" y1="309.6" x2="593.2" y2="489.1" stroke="#333" stroke-width="1"/>
<line x1="593.2" y1="489.1" x2="796.0" y2="489.1" stroke="#333" stroke-width="1"/>
<line x1="589.2" y1="489.1" x2="593.2" y2="489.1" stroke="#333" stroke-width="0.8"/>
<text transform="translate(588.4 491.8) scale(0.9 1)" font-size="8.3" text-anchor="end" fill="#161616" font-weight="normal" >0</text>
<line x1="591.2" y1="486.0" x2="593.2" y2="486.0" stroke="#333" stroke-width="0.8"/>
<line x1="591.2" y1="483.0" x2="593.2" y2="483.0" stroke="#333" stroke-width="0.8"/>
<line x1="591.2" y1="479.9" x2="593.2" y2="479.9" stroke="#333" stroke-width="0.8"/>
<line x1="591.2" y1="476.8" x2="593.2" y2="476.8" stroke="#333" stroke-width="0.8"/>
<line x1="589.2" y1="473.8" x2="593.2" y2="473.8" stroke="#333" stroke-width="0.8"/>
<text transform="translate(588.4 476.5) scale(0.9 1)" font-size="8.3" text-anchor="end" fill="#161616" font-weight="normal" >5</text>
<line x1="591.2" y1="470.7" x2="593.2" y2="470.7" stroke="#333" stroke-width="0.8"/>
<line x1="591.2" y1="467.6" x2="593.2" y2="467.6" stroke="#333" stroke-width="0.8"/>
<line x1="591.2" y1="464.5" x2="593.2" y2="464.5" stroke="#333" stroke-width="0.8"/>
<line x1="591.2" y1="461.5" x2="593.2" y2="461.5" stroke="#333" stroke-width="0.8"/>
<line x1="589.2" y1="458.4" x2="593.2" y2="458.4" stroke="#333" stroke-width="0.8"/>
<text transform="translate(588.4 461.1) scale(0.9 1)" font-size="8.3" text-anchor="end" fill="#161616" font-weight="normal" >10</text>
<line x1="591.2" y1="455.3" x2="593.2" y2="455.3" stroke="#333" stroke-width="0.8"/>
<line x1="591.2" y1="452.3" x2="593.2" y2="452.3" stroke="#333" stroke-width="0.8"/>
<line x1="591.2" y1="449.2" x2="593.2" y2="449.2" stroke="#333" stroke-width="0.8"/>
<line x1="591.2" y1="446.1" x2="593.2" y2="446.1" stroke="#333" stroke-width="0.8"/>
<line x1="589.2" y1="443.1" x2="593.2" y2="443.1" stroke="#333" stroke-width="0.8"/>
<text transform="translate(588.4 445.8) scale(0.9 1)" font-size="8.3" text-anchor="end" fill="#161616" font-weight="normal" >15</text>
<line x1="591.2" y1="440.0" x2="593.2" y2="440.0" stroke="#333" stroke-width="0.8"/>
<line x1="591.2" y1="436.9" x2="593.2" y2="436.9" stroke="#333" stroke-width="0.8"/>
<line x1="591.2" y1="433.8" x2="593.2" y2="433.8" stroke="#333" stroke-width="0.8"/>
<line x1="591.2" y1="430.8" x2="593.2" y2="430.8" stroke="#333" stroke-width="0.8"/>
<line x1="589.2" y1="427.7" x2="593.2" y2="427.7" stroke="#333" stroke-width="0.8"/>
<text transform="translate(588.4 430.4) scale(0.9 1)" font-size="8.3" text-anchor="end" fill="#161616" font-weight="normal" >20</text>
<line x1="591.2" y1="424.6" x2="593.2" y2="424.6" stroke="#333" stroke-width="0.8"/>
<line x1="591.2" y1="421.6" x2="593.2" y2="421.6" stroke="#333" stroke-width="0.8"/>
<line x1="591.2" y1="418.5" x2="593.2" y2="418.5" stroke="#333" stroke-width="0.8"/>
<line x1="591.2" y1="415.4" x2="593.2" y2="415.4" stroke="#333" stroke-width="0.8"/>
<line x1="589.2" y1="412.4" x2="593.2" y2="412.4" stroke="#333" stroke-width="0.8"/>
<text transform="translate(588.4 415.1) scale(0.9 1)" font-size="8.3" text-anchor="end" fill="#161616" font-weight="normal" >25</text>
<line x1="591.2" y1="409.3" x2="593.2" y2="409.3" stroke="#333" stroke-width="0.8"/>
<line x1="591.2" y1="406.2" x2="593.2" y2="406.2" stroke="#333" stroke-width="0.8"/>
<line x1="591.2" y1="403.1" x2="593.2" y2="403.1" stroke="#333" stroke-width="0.8"/>
<line x1="591.2" y1="400.1" x2="593.2" y2="400.1" stroke="#333" stroke-width="0.8"/>
<line x1="589.2" y1="397.0" x2="593.2" y2="397.0" stroke="#333" stroke-width="0.8"/>
<text transform="translate(588.4 399.7) scale(0.9 1)" font-size="8.3" text-anchor="end" fill="#161616" font-weight="normal" >30</text>
<line x1="591.2" y1="393.9" x2="593.2" y2="393.9" stroke="#333" stroke-width="0.8"/>
<line x1="591.2" y1="390.9" x2="593.2" y2="390.9" stroke="#333" stroke-width="0.8"/>
<line x1="591.2" y1="387.8" x2="593.2" y2="387.8" stroke="#333" stroke-width="0.8"/>
<line x1="591.2" y1="384.7" x2="593.2" y2="384.7" stroke="#333" stroke-width="0.8"/>
<line x1="589.2" y1="381.7" x2="593.2" y2="381.7" stroke="#333" stroke-width="0.8"/>
<text transform="translate(588.4 384.4) scale(0.9 1)" font-size="8.3" text-anchor="end" fill="#161616" font-weight="normal" >35</text>
<line x1="591.2" y1="378.6" x2="593.2" y2="378.6" stroke="#333" stroke-width="0.8"/>
<line x1="591.2" y1="375.5" x2="593.2" y2="375.5" stroke="#333" stroke-width="0.8"/>
<line x1="591.2" y1="372.4" x2="593.2" y2="372.4" stroke="#333" stroke-width="0.8"/>
<line x1="591.2" y1="369.4" x2="593.2" y2="369.4" stroke="#333" stroke-width="0.8"/>
<line x1="589.2" y1="366.3" x2="593.2" y2="366.3" stroke="#333" stroke-width="0.8"/>
<text transform="translate(588.4 369.0) scale(0.9 1)" font-size="8.3" text-anchor="end" fill="#161616" font-weight="normal" >40</text>
<line x1="591.2" y1="363.2" x2="593.2" y2="363.2" stroke="#333" stroke-width="0.8"/>
<line x1="591.2" y1="360.2" x2="593.2" y2="360.2" stroke="#333" stroke-width="0.8"/>
<line x1="591.2" y1="357.1" x2="593.2" y2="357.1" stroke="#333" stroke-width="0.8"/>
<line x1="591.2" y1="354.0" x2="593.2" y2="354.0" stroke="#333" stroke-width="0.8"/>
<line x1="589.2" y1="351.0" x2="593.2" y2="351.0" stroke="#333" stroke-width="0.8"/>
<text transform="translate(588.4 353.7) scale(0.9 1)" font-size="8.3" text-anchor="end" fill="#161616" font-weight="normal" >45</text>
<line x1="591.2" y1="347.9" x2="593.2" y2="347.9" stroke="#333" stroke-width="0.8"/>
<line x1="591.2" y1="344.8" x2="593.2" y2="344.8" stroke="#333" stroke-width="0.8"/>
<line x1="591.2" y1="341.7" x2="593.2" y2="341.7" stroke="#333" stroke-width="0.8"/>
<line x1="591.2" y1="338.7" x2="593.2" y2="338.7" stroke="#333" stroke-width="0.8"/>
<line x1="589.2" y1="335.6" x2="593.2" y2="335.6" stroke="#333" stroke-width="0.8"/>
<text transform="translate(588.4 338.3) scale(0.9 1)" font-size="8.3" text-anchor="end" fill="#161616" font-weight="normal" >50</text>
<line x1="591.2" y1="332.5" x2="593.2" y2="332.5" stroke="#333" stroke-width="0.8"/>
<line x1="591.2" y1="329.5" x2="593.2" y2="329.5" stroke="#333" stroke-width="0.8"/>
<line x1="591.2" y1="326.4" x2="593.2" y2="326.4" stroke="#333" stroke-width="0.8"/>
<line x1="591.2" y1="323.3" x2="593.2" y2="323.3" stroke="#333" stroke-width="0.8"/>
<line x1="589.2" y1="320.2" x2="593.2" y2="320.2" stroke="#333" stroke-width="0.8"/>
<text transform="translate(588.4 323.0) scale(0.9 1)" font-size="8.3" text-anchor="end" fill="#161616" font-weight="normal" >55</text>
<line x1="591.2" y1="317.2" x2="593.2" y2="317.2" stroke="#333" stroke-width="0.8"/>
<line x1="591.2" y1="314.1" x2="593.2" y2="314.1" stroke="#333" stroke-width="0.8"/>
<line x1="591.2" y1="311.0" x2="593.2" y2="311.0" stroke="#333" stroke-width="0.8"/>
<line x1="600.0" y1="489.1" x2="600.0" y2="494.1" stroke="#333" stroke-width="0.8"/>
<text transform="translate(600.0 501.3) scale(0.9 1)" font-size="8.3" text-anchor="middle" fill="#161616" font-weight="normal" >460</text>
<line x1="606.3" y1="489.1" x2="606.3" y2="492.1" stroke="#333" stroke-width="0.8"/>
<line x1="612.6" y1="489.1" x2="612.6" y2="492.1" stroke="#333" stroke-width="0.8"/>
<line x1="618.9" y1="489.1" x2="618.9" y2="492.1" stroke="#333" stroke-width="0.8"/>
<line x1="625.2" y1="489.1" x2="625.2" y2="492.1" stroke="#333" stroke-width="0.8"/>
<line x1="631.5" y1="489.1" x2="631.5" y2="494.1" stroke="#333" stroke-width="0.8"/>
<text transform="translate(631.5 501.3) scale(0.9 1)" font-size="8.3" text-anchor="middle" fill="#161616" font-weight="normal" >465</text>
<line x1="637.9" y1="489.1" x2="637.9" y2="492.1" stroke="#333" stroke-width="0.8"/>
<line x1="644.2" y1="489.1" x2="644.2" y2="492.1" stroke="#333" stroke-width="0.8"/>
<line x1="650.5" y1="489.1" x2="650.5" y2="492.1" stroke="#333" stroke-width="0.8"/>
<line x1="656.8" y1="489.1" x2="656.8" y2="492.1" stroke="#333" stroke-width="0.8"/>
<line x1="663.1" y1="489.1" x2="663.1" y2="494.1" stroke="#333" stroke-width="0.8"/>
<text transform="translate(663.1 501.3) scale(0.9 1)" font-size="8.3" text-anchor="middle" fill="#161616" font-weight="normal" >470</text>
<line x1="669.4" y1="489.1" x2="669.4" y2="492.1" stroke="#333" stroke-width="0.8"/>
<line x1="675.7" y1="489.1" x2="675.7" y2="492.1" stroke="#333" stroke-width="0.8"/>
<line x1="682.0" y1="489.1" x2="682.0" y2="492.1" stroke="#333" stroke-width="0.8"/>
<line x1="688.3" y1="489.1" x2="688.3" y2="492.1" stroke="#333" stroke-width="0.8"/>
<line x1="694.6" y1="489.1" x2="694.6" y2="494.1" stroke="#333" stroke-width="0.8"/>
<text transform="translate(694.6 501.3) scale(0.9 1)" font-size="8.3" text-anchor="middle" fill="#161616" font-weight="normal" >475</text>
<line x1="701.0" y1="489.1" x2="701.0" y2="492.1" stroke="#333" stroke-width="0.8"/>
<line x1="707.3" y1="489.1" x2="707.3" y2="492.1" stroke="#333" stroke-width="0.8"/>
<line x1="713.6" y1="489.1" x2="713.6" y2="492.1" stroke="#333" stroke-width="0.8"/>
<line x1="719.9" y1="489.1" x2="719.9" y2="492.1" stroke="#333" stroke-width="0.8"/>
<line x1="726.2" y1="489.1" x2="726.2" y2="494.1" stroke="#333" stroke-width="0.8"/>
<text transform="translate(726.2 501.3) scale(0.9 1)" font-size="8.3" text-anchor="middle" fill="#161616" font-weight="normal" >480</text>
<line x1="732.5" y1="489.1" x2="732.5" y2="492.1" stroke="#333" stroke-width="0.8"/>
<line x1="738.8" y1="489.1" x2="738.8" y2="492.1" stroke="#333" stroke-width="0.8"/>
<line x1="745.1" y1="489.1" x2="745.1" y2="492.1" stroke="#333" stroke-width="0.8"/>
<line x1="751.4" y1="489.1" x2="751.4" y2="492.1" stroke="#333" stroke-width="0.8"/>
<line x1="757.8" y1="489.1" x2="757.8" y2="494.1" stroke="#333" stroke-width="0.8"/>
<text transform="translate(757.8 501.3) scale(0.9 1)" font-size="8.3" text-anchor="middle" fill="#161616" font-weight="normal" >485</text>
<line x1="764.1" y1="489.1" x2="764.1" y2="492.1" stroke="#333" stroke-width="0.8"/>
<line x1="770.4" y1="489.1" x2="770.4" y2="492.1" stroke="#333" stroke-width="0.8"/>
<line x1="776.7" y1="489.1" x2="776.7" y2="492.1" stroke="#333" stroke-width="0.8"/>
<line x1="783.0" y1="489.1" x2="783.0" y2="492.1" stroke="#333" stroke-width="0.8"/>
<line x1="789.3" y1="489.1" x2="789.3" y2="494.1" stroke="#333" stroke-width="0.8"/>
<text transform="translate(789.3 501.3) scale(0.9 1)" font-size="8.3" text-anchor="middle" fill="#161616" font-weight="normal" >490</text>
<line x1="795.6" y1="489.1" x2="795.6" y2="492.1" stroke="#333" stroke-width="0.8"/>
<polyline fill="none" stroke="#111" stroke-width="1.0" stroke-linejoin="round" points="594.6,488.2 595.1,486.0 595.6,482.7 596.2,480.4 596.7,481.0 597.2,485.4 597.7,485.2 598.2,485.1 598.7,485.4 599.2,485.0 599.7,486.3 600.2,488.1 600.7,487.5 601.2,485.5 601.7,483.6 602.2,481.0 602.7,485.3 603.2,485.4 603.7,488.2 604.2,487.4 604.7,486.7 605.2,482.2 605.7,482.1 606.2,482.0 606.8,487.4 607.3,485.6 607.8,481.3 608.3,482.9 608.8,486.3 609.3,488.4 609.8,487.9 610.3,488.5 610.8,485.5 611.3,486.9 611.8,485.9 612.3,485.5 612.8,483.8 613.3,485.7 613.8,485.7 614.3,486.3 614.8,486.9 615.3,481.7 615.8,477.0 616.3,472.8 616.8,468.6 617.4,459.8 617.9,450.1 618.4,440.0 618.9,429.5 619.4,420.2 619.9,412.6 620.4,404.4 620.9,396.9 621.4,389.6 621.9,385.8 622.4,394.9 622.9,403.5 623.4,412.4 623.9,421.1 624.4,430.3 624.9,439.4 625.4,448.5 625.9,455.4 626.4,453.4 626.9,452.2 627.4,453.5 628.0,456.8 628.5,460.7 629.0,464.5 629.5,467.6 630.0,469.9 630.5,468.9 631.0,468.6 631.5,467.8 632.0,467.0 632.5,468.8 633.0,469.4 633.5,470.9 634.0,472.9 634.5,473.0 635.0,475.2 635.5,476.9 636.0,476.9 636.5,477.9 637.0,475.9 637.5,478.0 638.0,478.6 638.6,479.6 639.1,482.2 639.6,482.2 640.1,486.5 640.6,485.4 641.1,481.8 641.6,483.2 642.1,487.6 642.6,488.2 643.1,487.6 643.6,488.2 644.1,487.8 644.6,485.1 645.1,484.3 645.6,483.5 646.1,484.3 646.6,487.6 647.1,488.3 647.6,487.9 648.1,486.7 648.7,485.6 649.2,484.2 649.7,484.6 650.2,485.4 650.7,487.8 651.2,488.5 651.7,482.6 652.2,486.7 652.7,486.0 653.2,485.9 653.7,483.0 654.2,482.1 654.7,484.3 655.2,485.7 655.7,484.1 656.2,480.0 656.7,475.4 657.2,469.9 657.7,467.5 658.2,472.1 658.7,477.0 659.3,482.8 659.8,486.8 660.3,486.6 660.8,482.6 661.3,482.1 661.8,481.1 662.3,484.3 662.8,480.0 663.3,477.8 663.8,482.6 664.3,485.4 664.8,488.3 665.3,486.4 665.8,486.1 666.3,484.8 666.8,481.3 667.3,484.3 667.8,487.1 668.3,487.4 668.8,485.2 669.3,485.4 669.9,485.8 670.4,484.8 670.9,480.5 671.4,480.2 671.9,481.2 672.4,486.0 672.9,486.4 673.4,487.0 673.9,485.7 674.4,485.6 674.9,480.4 675.4,483.9 675.9,486.4 676.4,483.8 676.9,487.8 677.4,488.3 677.9,487.9 678.4,486.7 678.9,484.8 679.4,481.3 679.9,484.3 680.5,486.1 681.0,487.9 681.5,486.9 682.0,486.0 682.5,486.1 683.0,480.1 683.5,481.7 684.0,480.8 684.5,481.9 685.0,484.4 685.5,476.1 686.0,468.8 686.5,461.3 687.0,436.6 687.5,396.0 688.0,378.8 688.5,361.7 689.0,344.4 689.5,335.2 690.0,349.6 690.5,364.0 691.1,378.8 691.6,411.2 692.1,458.8 692.6,467.0 693.1,472.1 693.6,471.6 694.1,466.5 694.6,461.2 695.1,454.9 695.6,448.7 696.1,455.0 696.6,462.1 697.1,471.4 697.6,476.4 698.1,480.4 698.6,481.3 699.1,487.8 699.6,486.3 700.1,486.1 700.6,483.8 701.1,479.8 701.7,479.3 702.2,478.2 702.7,481.9 703.2,485.3 703.7,485.6 704.2,486.4 704.7,484.9 705.2,483.4 705.7,482.0 706.2,485.5 706.7,488.1 707.2,487.9 707.7,487.5 708.2,486.3 708.7,484.0 709.2,481.0 709.7,482.9 710.2,486.1 710.7,486.7 711.2,485.6 711.8,488.1 712.3,487.1 712.8,484.7 713.3,483.7 713.8,479.8 714.3,484.6 714.8,487.6 715.3,488.3 715.8,487.8 716.3,486.5 716.8,485.1 717.3,485.7 717.8,483.2 718.3,484.2 718.8,486.4 719.3,484.8 719.8,485.1 720.3,482.1 720.8,479.2 721.3,480.9 721.8,482.5 722.4,484.3 722.9,486.5 723.4,485.1 723.9,484.9 724.4,487.8 724.9,487.0 725.4,483.6 725.9,484.3 726.4,482.2 726.9,485.4 727.4,487.6 727.9,488.3 728.4,487.0 728.9,488.1 729.4,487.7 729.9,487.0 730.4,485.2 730.9,482.3 731.4,481.2 731.9,483.6 732.4,486.5 733.0,487.0 733.5,487.7 734.0,487.0 734.5,485.0 735.0,480.8 735.5,482.7 736.0,486.1 736.5,486.0 737.0,487.8 737.5,486.7 738.0,486.0 738.5,483.0 739.0,476.9 739.5,478.9 740.0,482.0 740.5,483.4 741.0,487.0 741.5,487.3 742.0,484.0 742.5,483.3 743.0,481.7 743.6,485.4 744.1,488.0 744.6,484.1 745.1,486.7 745.6,486.6 746.1,485.7 746.6,482.3 747.1,481.4 747.6,483.2 748.1,486.2 748.6,484.7 749.1,486.7 749.6,487.3 750.1,486.1 750.6,485.4 751.1,484.9 751.6,483.9 752.1,485.5 752.6,485.9 753.1,484.9 753.6,488.5 754.2,487.2 754.7,476.7 755.2,468.5 755.7,460.0 756.2,450.2 756.7,437.3 757.2,424.1 757.7,410.8 758.2,417.3 758.7,429.4 759.2,441.8 759.7,454.2 760.2,459.0 760.7,463.2 761.2,466.3 761.7,467.6 762.2,464.1 762.7,462.2 763.2,459.1 763.7,456.3 764.2,453.3 764.8,457.4 765.3,462.4 765.8,466.5 766.3,471.9 766.8,476.2 767.3,475.0 767.8,473.3 768.3,474.8 768.8,476.6 769.3,478.1 769.8,477.8 770.3,480.2 770.8,479.9 771.3,481.3 771.8,483.0 772.3,483.1 772.8,488.4 773.3,488.1 773.8,487.6 774.3,485.8 774.9,482.7 775.4,477.0 775.9,480.9 776.4,484.6 776.9,483.8 777.4,483.1 777.9,476.9 778.4,471.8 778.9,472.4 779.4,477.4 779.9,483.2 780.4,482.7 780.9,482.3 781.4,482.1 781.9,481.2 782.4,484.1 782.9,486.9 783.4,486.9 783.9,485.8 784.4,485.2 784.9,484.3 785.5,483.1 786.0,483.6 786.5,483.8 787.0,485.6 787.5,487.1 788.0,487.0 788.5,485.7 789.0,484.2 789.5,481.7 790.0,486.0 790.5,483.7 791.0,487.5 791.5,486.5 792.0,484.6 792.5,481.6 793.0,479.9 793.5,482.9 794.0,482.7 794.5,484.0 795.0,487.5 795.5,487.1"/>
<text x="378" y="171.6" font-size="7.9" text-anchor="start" fill="#2a2a2a"  textLength="22.4" lengthAdjust="spacingAndGlyphs">463.07</text>
<text x="396.9" y="196.6" font-size="7.9" text-anchor="start" fill="#2a2a2a"  textLength="22.4" lengthAdjust="spacingAndGlyphs">464.40</text>
<line x1="397" y1="198" x2="407" y2="198" stroke="#7cc47c" stroke-width="0.8"/>
<text x="436.5" y="196.6" font-size="7.9" text-anchor="start" fill="#2a2a2a"  textLength="22.4" lengthAdjust="spacingAndGlyphs">472.07</text>
<text x="472.8" y="210.4" font-size="7.9" text-anchor="start" fill="#2a2a2a"  textLength="22.4" lengthAdjust="spacingAndGlyphs">478.80</text>
<line x1="484" y1="211.5" x2="493" y2="212.5" stroke="#7cc47c" stroke-width="0.8"/>
<text x="501.7" y="208.8" font-size="7.9" text-anchor="start" fill="#2a2a2a"  textLength="22.4" lengthAdjust="spacingAndGlyphs">483.13</text>
<line x1="511" y1="210" x2="520" y2="210.5" stroke="#7cc47c" stroke-width="0.8"/>
<text x="522.5" y="63.9" font-size="7.9" text-anchor="start" fill="#2a2a2a"  textLength="22.4" lengthAdjust="spacingAndGlyphs">485.27</text>
<text x="538" y="159.4" font-size="7.9" text-anchor="start" fill="#2a2a2a"  textLength="22.4" lengthAdjust="spacingAndGlyphs">486.07</text>
<line x1="540" y1="161.5" x2="553" y2="159.5" stroke="#7cc47c" stroke-width="0.8"/>
<text x="434.2" y="246.5" font-size="7.3" text-anchor="middle" fill="#2a2a2a" >m/z</text>
<text x="602.8" y="195.7" font-size="7.9" text-anchor="start" fill="#2a2a2a"  textLength="22.4" lengthAdjust="spacingAndGlyphs">463.33</text>
<text x="641" y="180.7" font-size="7.9" text-anchor="start" fill="#2a2a2a"  textLength="22.4" lengthAdjust="spacingAndGlyphs">469.07</text>
<text x="674" y="102.1" font-size="7.9" text-anchor="start" fill="#2a2a2a"  textLength="25" lengthAdjust="spacingAndGlyphs">474.20</text>
<text x="692" y="182.5" font-size="7.9" text-anchor="start" fill="#2a2a2a"  textLength="22.4" lengthAdjust="spacingAndGlyphs">475.20</text>
<line x1="693" y1="184.2" x2="705" y2="183.5" stroke="#7cc47c" stroke-width="0.8"/>
<text x="697.6" y="209.1" font-size="7.9" text-anchor="start" fill="#2a2a2a"  textLength="22.4" lengthAdjust="spacingAndGlyphs">476.00</text>
<line x1="698" y1="211" x2="712" y2="210.5" stroke="#7cc47c" stroke-width="0.8"/>
<text x="728" y="210.4" font-size="7.9" text-anchor="start" fill="#2a2a2a"  textLength="22.4" lengthAdjust="spacingAndGlyphs">482.87</text>
<text x="747" y="163.1" font-size="7.9" text-anchor="start" fill="#2a2a2a"  textLength="24.4" lengthAdjust="spacingAndGlyphs">485.20</text>
<text x="768.6" y="195" font-size="7.9" text-anchor="start" fill="#2a2a2a"  textLength="22.4" lengthAdjust="spacingAndGlyphs">488.33</text>
<text x="659" y="243.5" font-size="7.3" text-anchor="middle" fill="#2a2a2a" >m/z</text>
<text x="0" y="0" font-size="8.0" text-anchor="middle" fill="#1e1e1e" transform="translate(571.4 136.5) rotate(-90)" textLength="71" lengthAdjust="spacingAndGlyphs">Relative Abundance</text>
<line x1="613" y1="95.8" x2="663" y2="95.8" stroke="#444" stroke-width="0.9"/><path d="M657.5,92.4 L663.2,95.8 L657.5,99.2" fill="none" stroke="#444" stroke-width="0.9"/>
<text x="379" y="426.6" font-size="4.3" text-anchor="start" fill="#2a2a2a" letter-spacing="1.05">463.27</text>
<text x="413" y="471.2" font-size="4.3" text-anchor="start" fill="#2a2a2a" letter-spacing="1.05">469.07</text>
<text x="439.6" y="474.4" font-size="4.3" text-anchor="start" fill="#3a9a3a" letter-spacing="1.05">472.07</text>
<text x="458.5" y="480.5" font-size="4.3" text-anchor="start" fill="#3a9a3a" letter-spacing="1.05">478.20</text>
<text x="490.5" y="481.7" font-size="4.3" text-anchor="start" fill="#2a2a2a" letter-spacing="1.05">482.33</text>
<text x="509.6" y="314.6" font-size="4.3" text-anchor="start" fill="#2a2a2a" letter-spacing="1.05">485.27</text>
<text x="525.6" y="439.2" font-size="4.3" text-anchor="start" fill="#3a9a3a" letter-spacing="1.05">486.20</text>
<text x="535.6" y="477.4" font-size="4.3" text-anchor="start" fill="#2a2a2a" letter-spacing="1.05">491.33</text>
<text x="429" y="504.2" font-size="4.5" text-anchor="middle" fill="#2a2a2a" letter-spacing="1.05">m/z</text>
<text x="0" y="0" font-size="3.6" text-anchor="middle" fill="#2a2a2a" transform="translate(352.3 393.5) rotate(-90)">Relative Abundance</text>
<text x="0" y="0" font-size="7.4" text-anchor="middle" fill="#1e1e1e" transform="translate(568.6 397.4) rotate(-90)" textLength="61.7" lengthAdjust="spacingAndGlyphs">Relative Abundance</text>
<text x="593.9" y="471.1" font-size="7.9" text-anchor="start" fill="#2a2a2a" >33</text>
<text x="611.2" y="381.2" font-size="7.6" text-anchor="start" fill="#2a2a2a"  textLength="21.8" lengthAdjust="spacingAndGlyphs">463.47</text>
<text x="627.6" y="452.6" font-size="7.6" text-anchor="start" fill="#2a2a2a"  textLength="21.8" lengthAdjust="spacingAndGlyphs">464.33</text>
<line x1="628" y1="454.5" x2="640" y2="453.5" stroke="#7cc47c" stroke-width="0.8"/>
<text x="647.9" y="465.4" font-size="7.6" text-anchor="start" fill="#2a2a2a"  textLength="21.8" lengthAdjust="spacingAndGlyphs">469.13</text>
<text x="678" y="329.4" font-size="7.6" text-anchor="start" fill="#2a2a2a"  textLength="21.8" lengthAdjust="spacingAndGlyphs">474.20</text>
<text x="694.8" y="447.1" font-size="7.6" text-anchor="start" fill="#2a2a2a"  textLength="21.8" lengthAdjust="spacingAndGlyphs">475.13</text>
<line x1="695" y1="449" x2="707" y2="448.5" stroke="#7cc47c" stroke-width="0.8"/>
<text x="701.2" y="476.1" font-size="7.6" text-anchor="start" fill="#2a2a2a"  textLength="21.8" lengthAdjust="spacingAndGlyphs">476.13</text>
<line x1="702" y1="478" x2="714" y2="477.5" stroke="#7cc47c" stroke-width="0.8"/>
<text x="726.9" y="476.1" font-size="7.6" text-anchor="start" fill="#2a2a2a"  textLength="21.8" lengthAdjust="spacingAndGlyphs">482.07</text>
<text x="746.3" y="406.1" font-size="7.6" text-anchor="start" fill="#2a2a2a"  textLength="21.8" lengthAdjust="spacingAndGlyphs">485.13</text>
<text x="763" y="447.1" font-size="7.6" text-anchor="start" fill="#2a2a2a"  textLength="21.8" lengthAdjust="spacingAndGlyphs">486.13</text>
<line x1="763" y1="449" x2="776" y2="448" stroke="#7cc47c" stroke-width="0.8"/>
<text x="769.4" y="468.6" font-size="7.6" text-anchor="start" fill="#2a2a2a"  textLength="21.8" lengthAdjust="spacingAndGlyphs">488.33</text>
<text x="663.5" y="510" font-size="7.3" text-anchor="middle" fill="#2a2a2a" >m/z</text>


<line x1="620.8" y1="327.6" x2="666.9" y2="327.6" stroke="#444" stroke-width="0.9"/><path d="M661.3,324.2 L667,327.6 L661.3,331" fill="none" stroke="#444" stroke-width="0.9"/>
</svg></body></html>
